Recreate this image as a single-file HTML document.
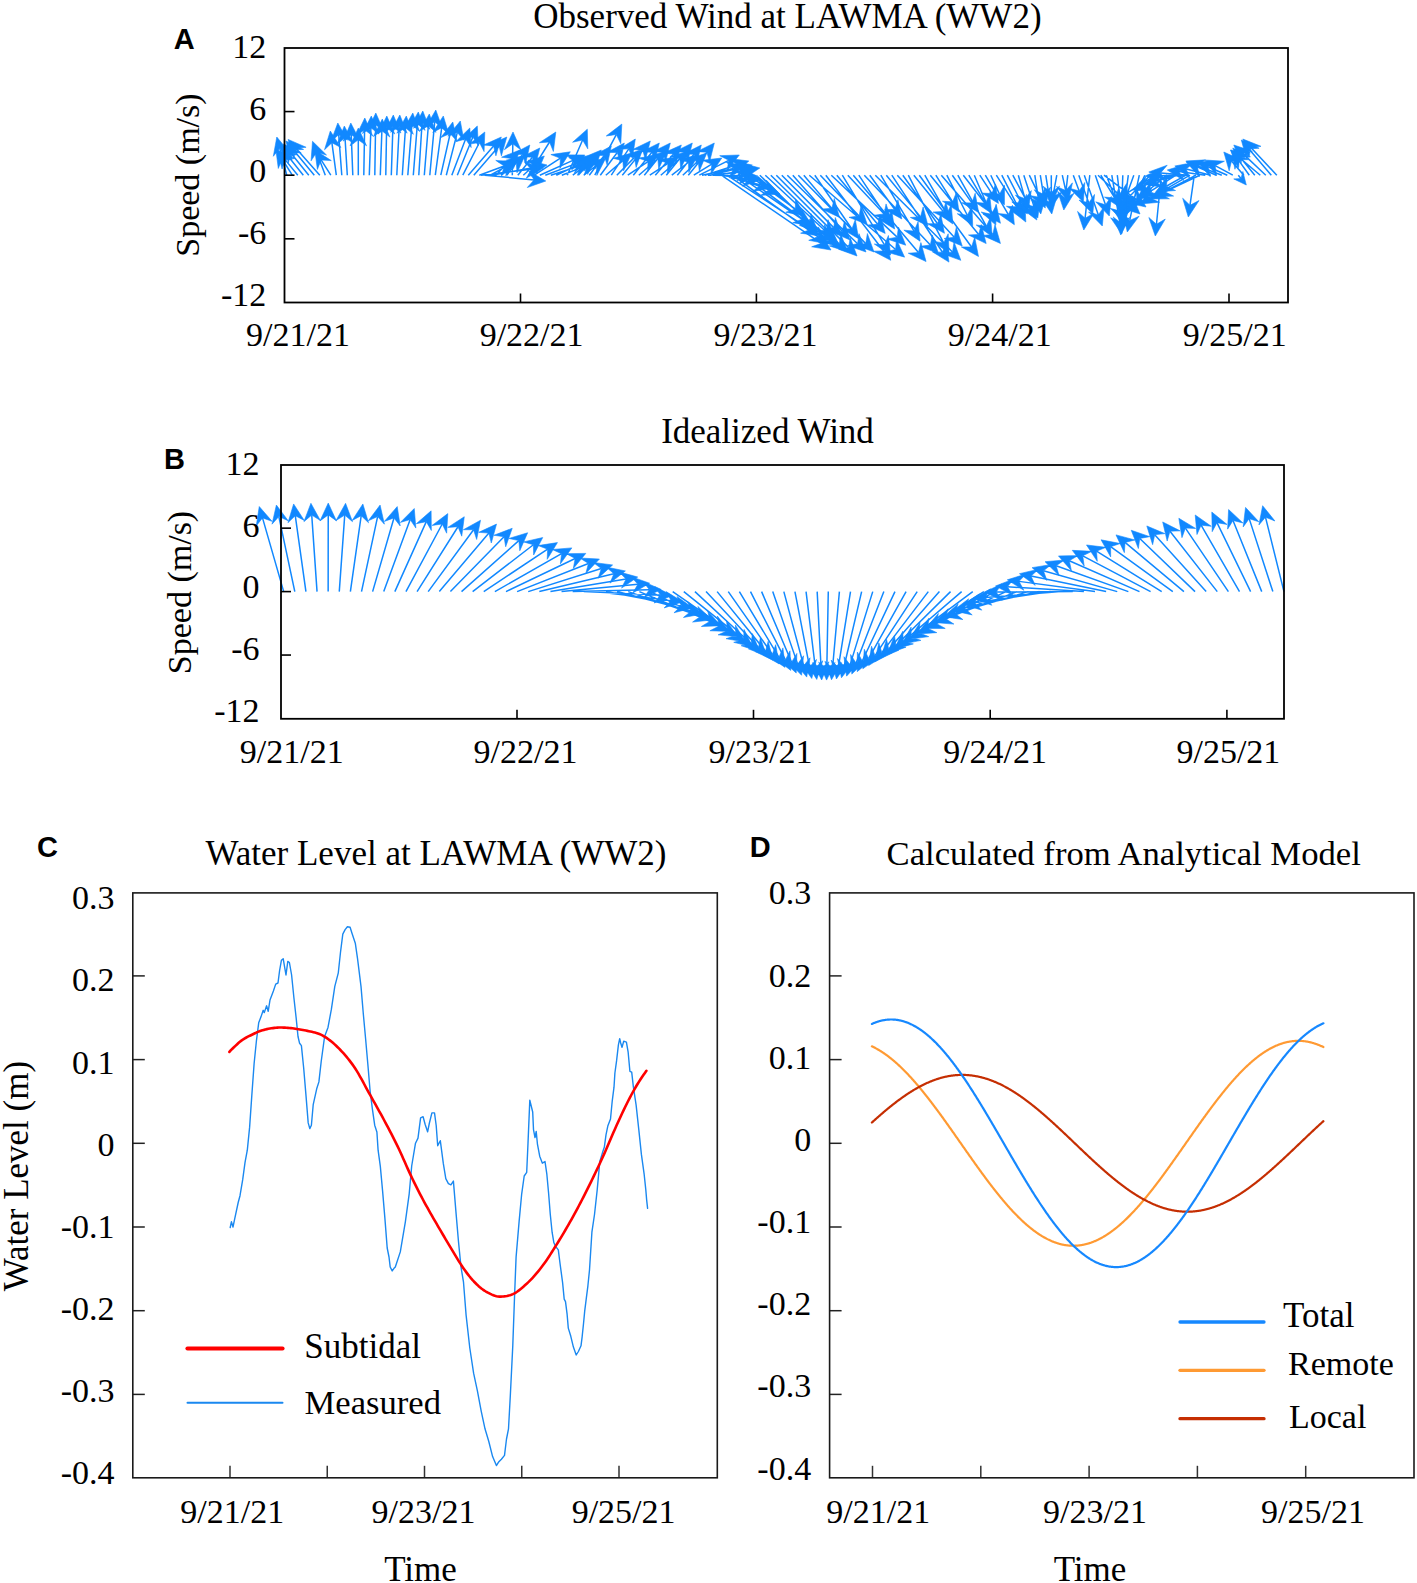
<!DOCTYPE html>
<html><head><meta charset="utf-8"><style>
html,body{margin:0;padding:0;background:#fff;overflow:hidden;width:1417px;height:1583px;}
svg{display:block;}
</style></head><body>
<svg width="1417" height="1583" viewBox="0 0 1417 1583">
<rect width="1417" height="1583" fill="#fff"/>
<path d="M286.80,175.20L279.79,148.42M292.30,175.20L282.09,158.98M297.80,175.20L284.67,159.14M303.30,175.20L287.36,155.22M308.80,175.20L291.01,153.18M314.30,175.20L293.44,150.08M319.80,175.20L295.92,148.23M325.30,175.20L316.67,152.34M330.80,175.20L321.12,159.96M336.30,175.20L331.89,142.69M341.80,175.20L338.70,134.77M347.30,175.20L345.02,137.78M352.80,175.20L351.25,134.79M358.30,175.20L358.30,139.80M363.80,175.20L364.59,129.80M369.30,175.20L370.90,127.79M374.80,175.20L375.61,124.80M380.30,175.20L381.88,130.79M385.80,175.20L386.60,127.80M391.30,175.20L392.91,126.79M396.80,175.20L399.21,126.79M402.30,175.20L405.50,127.77M407.80,175.20L411.85,124.76M413.30,175.20L417.37,123.76M418.80,175.20L422.07,122.78M424.30,175.20L428.34,125.76M429.80,175.20L434.72,121.75M435.30,175.20L441.72,127.69M440.80,175.20L450.20,133.51M446.30,175.20L457.35,132.43M451.80,175.20L465.60,139.03M457.30,175.20L472.86,136.93M462.80,175.20L479.45,142.52M468.30,175.20L493.59,145.93M473.80,175.20L499.09,145.93M479.30,175.20L504.22,166.06M484.80,175.20L534.05,179.88M490.30,175.20L507.02,165.79M495.80,175.20L511.66,158.54M501.30,175.20L516.27,162.60M506.80,175.20L522.65,154.39M512.30,175.20L512.81,143.80M517.80,175.20L532.38,157.17M523.30,175.20L535.59,163.96M528.80,175.20L549.55,142.01M534.30,175.20L560.41,158.23M539.80,175.20L574.03,159.83M545.30,175.20L577.26,163.16M550.80,175.20L580.57,165.62M556.30,175.20L585.66,161.11M561.80,175.20L586.82,165.33M567.30,175.20L582.60,140.02M572.80,175.20L587.40,164.13M578.30,175.20L593.35,158.72M583.80,175.20L596.50,165.27M589.30,175.20L604.20,155.42M594.80,175.20L616.29,134.53M600.30,175.20L617.25,152.46M605.80,175.20L622.83,160.66M611.30,175.20L628.78,148.83M616.80,175.20L634.49,157.38M622.30,175.20L642.82,150.13M627.80,175.20L648.01,161.59M633.30,175.20L651.89,152.18M638.80,175.20L657.87,158.72M644.30,175.20L662.89,152.18M649.80,175.20L667.91,163.43M655.30,175.20L673.60,153.94M660.80,175.20L679.87,158.72M666.30,175.20L684.89,152.18M671.80,175.20L688.48,162.24M677.30,175.20L693.96,154.24M682.80,175.20L698.14,161.01M688.30,175.20L706.89,152.18M693.80,175.20L711.75,164.18M699.30,175.20L728.77,160.32M704.80,175.20L737.57,164.62M710.30,175.20L740.83,167.78M715.80,175.20L748.15,169.91M721.30,175.20L821.25,243.35M726.80,175.20L810.12,229.55M732.30,175.20L818.42,237.11M737.80,175.20L802.26,219.33M743.30,175.20L824.50,235.00M748.80,175.20L795.45,209.07M754.30,175.20L830.95,239.42M759.80,175.20L809.56,223.76M765.30,175.20L839.35,243.97M770.80,175.20L826.56,229.75M776.30,175.20L848.66,247.65M781.80,175.20L833.70,227.61M787.30,175.20L857.55,243.76M792.80,175.20L842.19,231.15M798.30,175.20L865.72,243.60M803.80,175.20L831.87,208.37M809.30,175.20L895.63,249.45M814.80,175.20L851.90,229.02M820.30,175.20L859.13,215.95M825.80,175.20L883.57,250.95M831.30,175.20L897.14,237.13M836.80,175.20L877.65,224.35M842.30,175.20L884.47,244.89M847.80,175.20L884.14,213.94M853.30,175.20L918.46,252.50M858.80,175.20L888.08,219.16M864.30,175.20L930.37,244.99M869.80,175.20L894.83,209.44M875.30,175.20L952.47,252.03M880.80,175.20L914.06,231.10M886.30,175.20L920.56,216.86M891.80,175.20L942.49,252.26M897.30,175.20L954.26,237.34M902.80,175.20L937.56,223.71M908.30,175.20L943.64,242.89M913.80,175.20L943.22,211.53M919.30,175.20L971.54,246.94M924.80,175.20L947.00,213.80M930.30,175.20L978.69,234.43M935.80,175.20L952.62,201.87M941.30,175.20L992.71,234.56M946.80,175.20L967.34,215.25M952.30,175.20L971.87,202.92M957.80,175.20L986.36,226.21M963.30,175.20L993.24,213.94M968.80,175.20L985.59,203.28M974.30,175.20L991.14,214.28M979.80,175.20L991.92,193.55M985.30,175.20L1008.39,214.53M990.80,175.20L999.49,194.18M996.30,175.20L1016.63,206.87M1001.80,175.20L1020.42,211.50M1007.30,175.20L1021.89,203.51M1012.80,175.20L1031.23,209.60M1018.30,175.20L1025.04,198.66M1023.80,175.20L1034.13,206.78M1029.30,175.20L1040.13,197.39M1034.80,175.20L1039.00,202.34M1040.30,175.20L1043.41,194.35M1045.80,175.20L1050.00,202.34M1051.30,175.20L1051.30,192.20M1056.80,175.20L1052.92,196.39M1062.30,175.20L1065.72,190.49M1067.80,175.20L1065.15,198.28M1073.30,175.20L1079.17,190.94M1078.80,175.20L1088.80,202.90M1084.30,175.20L1098.36,214.88M1089.80,175.20L1085.08,218.27M1095.30,175.20L1105.47,204.84M1100.80,175.20L1114.66,197.93M1106.30,175.20L1120.06,210.99M1111.80,175.20L1119.82,222.37M1117.30,175.20L1121.92,214.28M1122.80,175.20L1121.19,223.21M1128.30,175.20L1123.80,210.30M1133.80,175.20L1123.80,202.90M1139.30,175.20L1129.74,220.45M1144.80,175.20L1131.77,203.30M1150.30,175.20L1128.53,197.55M1155.80,175.20L1125.83,193.78M1161.30,175.20L1156.46,224.26M1166.80,175.20L1145.89,192.48M1172.30,175.20L1143.37,185.91M1177.80,175.20L1155.22,181.04M1183.30,175.20L1157.10,175.75M1188.80,175.20L1160.56,172.94M1194.30,175.20L1189.98,205.32M1199.80,175.20L1160.45,193.93M1205.30,175.20L1178.99,171.60M1210.80,175.20L1186.23,168.92M1216.30,175.20L1197.10,166.75M1221.80,175.20L1196.78,165.33M1227.30,175.20L1208.10,166.75M1232.80,175.20L1215.17,165.63M1238.30,175.20L1241.00,178.50M1243.80,175.20L1231.50,160.94M1249.30,175.20L1238.16,159.60M1254.80,175.20L1240.22,157.17M1260.30,175.20L1239.34,157.59M1265.80,175.20L1242.38,153.10M1271.30,175.20L1248.95,148.98M1276.80,175.20L1250.88,147.60M702.00,175.20L733.46,168.47M708.00,175.20L742.25,172.07M713.00,175.20L745.20,175.79M719.00,175.20L749.28,178.66M724.00,175.20L760.60,184.96M730.00,175.20L768.95,189.85M481.00,175.20L531.28,169.36M492.00,175.20L535.40,167.15M1098.00,175.20L1131.33,205.99M1104.00,175.20L1136.59,199.88M1176.00,175.20L1149.97,191.69M1190.00,175.20L1150.23,198.11M1196.00,175.20L1164.47,191.56M1186.00,175.20L1166.30,186.23" stroke="#1188ff" stroke-width="1.5" fill="none"/>
<path d="M276.80,137.00L289.29,152.13L279.79,148.42L273.33,156.31ZM275.80,149.00L292.27,159.67L282.09,158.98L278.30,168.46ZM277.20,150.00L294.85,158.56L284.67,159.14L282.08,169.00ZM280.00,146.00L297.55,154.77L287.36,155.22L284.65,165.06ZM283.60,144.00L301.20,152.66L291.01,153.18L288.37,163.03ZM285.90,141.00L303.62,149.42L293.44,150.08L290.92,159.96ZM288.10,139.40L306.08,147.26L295.92,148.23L293.72,158.20ZM312.50,141.30L326.51,155.04L316.67,152.34L311.07,160.87ZM314.80,150.00L331.31,160.60L321.12,159.96L317.38,169.45ZM330.30,131.00L340.87,147.53L331.89,142.69L324.52,149.75ZM337.80,123.00L347.39,140.12L338.70,134.77L330.93,141.38ZM344.30,126.00L353.62,143.26L345.02,137.78L337.15,144.27ZM350.80,123.00L359.73,140.47L351.25,134.79L343.24,141.10ZM358.30,128.00L366.55,145.80L358.30,139.80L350.05,145.80ZM364.80,118.00L372.74,135.94L364.59,129.80L356.24,135.65ZM371.30,116.00L378.94,134.07L370.90,127.79L362.45,133.51ZM375.80,113.00L383.76,130.93L375.61,124.80L367.26,130.67ZM382.30,119.00L389.91,137.08L381.88,130.79L373.42,136.50ZM386.80,116.00L394.75,133.94L386.60,127.80L378.25,133.66ZM393.30,115.00L400.95,133.06L392.91,126.79L384.46,132.52ZM399.80,115.00L407.15,133.19L399.21,126.79L390.67,132.37ZM406.30,116.00L413.33,134.32L405.50,127.77L396.87,133.20ZM412.80,113.00L419.60,131.40L411.85,124.76L403.15,130.08ZM418.30,112.00L425.12,130.40L417.37,123.76L408.67,129.09ZM422.80,111.00L429.93,129.28L422.07,122.78L413.46,128.25ZM429.30,114.00L436.07,132.41L428.34,125.76L419.63,131.07ZM435.80,110.00L442.38,128.48L434.72,121.75L425.95,126.97ZM443.30,116.00L449.09,134.74L441.72,127.69L432.74,132.53ZM452.80,122.00L456.93,141.18L450.20,133.51L440.84,137.55ZM460.30,121.00L463.84,140.30L457.35,132.43L447.86,136.17ZM469.80,128.00L471.17,147.57L465.60,139.03L455.75,141.69ZM477.30,126.00L478.24,145.60L472.86,136.93L462.95,139.38ZM484.80,132.00L484.07,151.61L479.45,142.52L469.37,144.12ZM501.30,137.00L495.91,155.86L493.59,145.93L483.42,145.08ZM506.80,137.00L501.41,155.86L499.09,145.93L488.92,145.08ZM515.30,162.00L501.43,175.87L504.22,166.06L495.75,160.38ZM545.80,181.00L527.30,187.53L534.05,179.88L528.86,171.10ZM517.30,160.00L505.84,175.92L507.02,165.79L497.74,161.54ZM519.80,150.00L513.50,168.58L511.66,158.54L501.55,157.20ZM525.30,155.00L516.99,172.77L516.27,162.60L506.37,160.15ZM529.80,145.00L525.58,164.16L522.65,154.39L512.45,154.16ZM513.00,132.00L520.96,149.93L512.81,143.80L504.46,149.66ZM539.80,148.00L535.02,167.03L532.38,157.17L522.19,156.65ZM544.30,156.00L536.73,174.10L535.59,163.96L525.60,161.92ZM555.80,132.00L553.36,151.47L549.55,142.01L539.37,142.72ZM570.30,151.80L559.87,168.42L560.41,158.23L550.88,154.58ZM584.80,155.00L571.94,169.82L574.03,159.83L565.18,154.76ZM588.30,159.00L574.55,173.00L577.26,163.16L568.73,157.56ZM591.80,162.00L577.38,175.31L580.57,165.62L572.33,159.60ZM596.30,156.00L583.82,171.14L585.66,161.11L576.68,156.27ZM597.80,161.00L584.27,175.21L586.82,165.33L578.21,159.86ZM587.30,129.20L587.77,148.81L582.60,140.02L572.64,142.23ZM596.80,157.00L587.60,174.33L587.40,164.13L577.63,161.18ZM601.30,150.00L595.39,168.71L593.35,158.72L583.21,157.59ZM605.80,158.00L596.86,175.46L596.50,165.27L586.70,162.46ZM611.30,146.00L607.18,165.18L604.20,155.42L594.00,155.25ZM621.80,124.10L620.78,143.69L616.29,134.53L606.19,135.98ZM624.30,143.00L620.28,162.20L617.25,152.46L607.05,152.34ZM631.80,153.00L623.62,170.83L622.83,160.66L612.91,158.28ZM635.30,139.00L632.34,158.39L628.78,148.83L618.59,149.28ZM642.80,149.00L636.12,167.45L634.49,157.38L624.41,155.82ZM650.30,141.00L645.41,160.00L642.82,150.13L632.64,149.55ZM657.80,155.00L647.64,171.78L648.01,161.59L638.43,158.10ZM659.30,143.00L654.54,162.03L651.89,152.18L641.70,151.67ZM666.80,151.00L658.73,168.88L657.87,158.72L647.94,156.40ZM670.30,143.00L665.54,162.03L662.89,152.18L652.70,151.67ZM677.80,157.00L667.37,173.62L667.91,163.43L658.38,159.78ZM681.30,145.00L675.94,163.87L673.60,153.94L663.43,153.11ZM688.80,151.00L680.73,168.88L679.87,158.72L669.94,156.40ZM692.30,143.00L687.54,162.03L684.89,152.18L674.70,151.67ZM697.80,155.00L688.81,172.44L688.48,162.24L678.68,159.41ZM701.30,145.00L696.68,164.07L693.96,154.24L683.77,153.80ZM706.80,153.00L699.34,171.14L698.14,161.01L688.13,159.03ZM714.30,143.00L709.54,162.03L706.89,152.18L696.70,151.67ZM721.80,158.00L710.95,174.35L711.75,164.18L702.31,160.29ZM739.30,155.00L727.13,170.39L728.77,160.32L719.69,155.66ZM748.80,161.00L734.39,174.32L737.57,164.62L729.33,158.62ZM752.30,165.00L736.95,177.22L740.83,167.78L733.06,161.18ZM759.80,168.00L743.57,179.02L748.15,169.91L740.90,162.73ZM831.00,250.00L811.65,246.79L821.25,243.35L820.94,233.16ZM820.00,236.00L800.58,233.18L810.12,229.55L809.60,219.36ZM828.00,244.00L808.73,240.31L818.42,237.11L818.36,226.91ZM812.00,226.00L792.65,222.75L802.26,219.33L801.97,209.14ZM834.00,242.00L814.78,238.09L824.50,235.00L824.56,224.80ZM805.00,216.00L785.75,212.22L795.45,209.07L795.44,198.87ZM840.00,247.00L821.06,241.89L830.95,239.42L831.65,229.24ZM818.00,232.00L799.50,225.47L809.56,223.76L811.02,213.66ZM848.00,252.00L829.34,245.93L839.35,243.97L840.57,233.84ZM835.00,238.00L816.51,231.45L826.56,229.75L828.04,219.66ZM857.00,256.00L838.58,249.24L848.66,247.65L850.26,237.58ZM842.00,236.00L823.61,229.16L833.70,227.61L835.34,217.55ZM866.00,252.00L847.50,245.47L857.55,243.76L859.02,233.66ZM850.00,240.00L832.04,232.11L842.19,231.15L844.41,221.20ZM874.00,252.00L855.63,245.11L865.72,243.60L867.38,233.53ZM839.49,217.38L821.69,209.12L831.87,208.37L834.29,198.46ZM904.58,257.14L885.70,251.79L895.63,249.45L896.46,239.28ZM858.60,238.74L841.71,228.77L851.90,229.02L855.29,219.40ZM867.27,224.49L849.02,217.30L859.13,215.95L860.96,205.91ZM890.73,260.33L873.38,251.18L883.57,250.95L886.49,241.17ZM905.74,245.21L887.12,239.02L897.14,237.13L898.43,227.01ZM885.19,233.42L867.47,225.00L877.65,224.35L880.16,214.46ZM890.58,254.99L874.31,244.03L884.47,244.89L888.42,235.49ZM892.21,222.55L874.02,215.21L884.14,213.94L886.05,203.92ZM926.07,261.52L908.29,253.23L918.46,252.50L920.90,242.59ZM894.62,228.98L877.89,218.74L888.08,219.16L891.62,209.59ZM938.48,253.56L920.25,246.31L930.37,244.99L932.23,234.96ZM901.80,218.96L884.63,209.46L894.83,209.44L897.95,199.72ZM960.83,260.36L942.40,253.65L952.47,252.03L954.04,241.95ZM920.09,241.24L903.90,230.16L914.06,231.10L918.08,221.72ZM928.05,225.97L910.37,217.46L920.56,216.86L923.12,206.98ZM948.97,262.12L932.30,251.78L942.49,252.26L946.08,242.71ZM962.23,246.04L944.12,238.49L954.26,237.34L956.28,227.34ZM944.43,233.30L927.36,223.64L937.56,223.71L940.77,214.03ZM949.10,253.35L933.55,241.39L943.64,242.89L948.18,233.75ZM950.65,220.70L933.04,212.06L943.22,211.53L945.86,201.68ZM978.49,256.48L961.34,246.95L971.54,246.94L974.68,237.23ZM952.88,224.03L936.85,212.71L947.00,213.80L951.16,204.49ZM986.16,243.57L968.51,235.01L978.69,234.43L981.29,224.57ZM958.92,211.85L942.45,201.20L952.62,201.87L956.40,192.39ZM1000.44,243.48L982.55,235.43L992.71,234.56L995.02,224.62ZM972.72,225.75L957.26,213.68L967.34,215.25L971.94,206.15ZM978.67,212.56L961.67,202.78L971.87,202.92L975.15,193.26ZM992.12,236.51L976.23,225.01L986.36,226.21L990.62,216.95ZM1000.46,223.28L983.05,214.24L993.24,213.94L996.10,204.15ZM991.65,213.41L975.43,202.37L985.59,203.28L989.59,193.90ZM995.81,225.12L981.19,212.04L991.14,214.28L996.34,205.51ZM998.42,203.40L981.73,193.09L991.92,193.55L995.50,184.00ZM1014.36,224.71L998.23,213.54L1008.39,214.53L1012.46,205.18ZM1004.40,204.91L989.49,192.16L999.49,194.18L1004.49,185.29ZM1023.01,216.80L1006.45,206.28L1016.63,206.87L1020.34,197.36ZM1025.80,222.00L1010.34,209.93L1020.42,211.50L1025.02,202.40ZM1027.30,214.00L1011.81,201.96L1021.89,203.51L1026.48,194.40ZM1036.80,220.00L1021.12,208.21L1031.23,209.60L1035.67,200.41ZM1028.30,210.00L1015.45,195.17L1025.04,198.66L1031.31,190.61ZM1037.80,218.00L1024.42,203.65L1034.13,206.78L1040.11,198.52ZM1045.30,208.00L1030.08,195.62L1040.13,197.39L1044.91,188.38ZM1040.80,214.00L1029.93,197.67L1039.00,202.34L1046.23,195.15ZM1045.30,206.00L1034.30,189.75L1043.41,194.35L1050.59,187.11ZM1051.80,214.00L1040.93,197.67L1050.00,202.34L1057.23,195.15ZM1051.30,204.00L1043.05,186.20L1051.30,192.20L1059.55,186.20ZM1050.80,208.00L1045.89,189.01L1052.92,196.39L1062.12,191.98ZM1068.30,202.00L1056.36,186.43L1065.72,190.49L1072.46,182.83ZM1063.80,210.00L1057.64,191.37L1065.15,198.28L1074.03,193.26ZM1083.30,202.00L1069.35,188.21L1079.17,190.94L1084.81,182.44ZM1092.80,214.00L1079.00,200.06L1088.80,202.90L1094.52,194.46ZM1102.30,226.00L1088.58,211.98L1098.36,214.88L1104.13,206.47ZM1083.80,230.00L1077.54,211.41L1085.08,218.27L1093.94,213.20ZM1109.30,216.00L1095.72,201.84L1105.47,204.84L1111.33,196.49ZM1120.80,208.00L1104.49,197.10L1114.66,197.93L1118.58,188.51ZM1124.30,222.00L1110.21,208.35L1120.06,210.99L1125.61,202.42ZM1121.80,234.00L1110.68,217.84L1119.82,222.37L1126.95,215.07ZM1123.30,226.00L1113.02,209.29L1121.92,214.28L1129.41,207.36ZM1120.80,235.00L1113.15,216.93L1121.19,223.21L1129.64,217.49ZM1122.30,222.00L1116.38,203.30L1123.80,210.30L1132.75,205.39ZM1119.80,214.00L1118.08,194.46L1123.80,202.90L1133.60,200.06ZM1127.30,232.00L1122.91,212.88L1129.74,220.45L1139.05,216.29ZM1126.80,214.00L1126.81,194.38L1131.77,203.30L1141.77,201.32ZM1120.30,206.00L1126.81,187.49L1128.53,197.55L1138.63,199.01ZM1115.80,200.00L1126.58,183.61L1125.83,193.78L1135.28,197.63ZM1155.30,236.00L1148.84,217.48L1156.46,224.26L1165.26,219.10ZM1136.80,200.00L1145.26,182.30L1145.89,192.48L1155.78,195.02ZM1132.30,190.00L1146.13,176.09L1143.37,185.91L1151.86,191.56ZM1143.80,184.00L1158.96,171.55L1155.22,181.04L1163.10,187.53ZM1145.30,176.00L1162.92,167.38L1157.10,175.75L1163.27,183.87ZM1148.80,172.00L1167.20,165.20L1160.56,172.94L1165.89,181.64ZM1188.30,217.00L1182.66,198.21L1189.98,205.32L1199.00,200.55ZM1149.80,199.00L1162.33,183.90L1160.45,193.93L1169.42,198.80ZM1167.30,170.00L1186.05,164.24L1178.99,171.60L1183.82,180.59ZM1174.80,166.00L1194.09,162.41L1186.23,168.92L1190.00,178.40ZM1186.30,162.00L1205.92,161.62L1197.10,166.75L1199.27,176.72ZM1185.80,161.00L1205.39,159.86L1196.78,165.33L1199.33,175.21ZM1197.30,162.00L1216.92,161.62L1208.10,166.75L1210.27,176.72ZM1204.80,160.00L1224.38,161.24L1215.17,165.63L1216.51,175.74ZM1246.30,185.00L1233.76,178.91L1241.00,178.50L1242.84,171.49ZM1223.80,152.00L1241.67,160.10L1231.50,160.94L1229.17,170.87ZM1231.30,150.00L1248.36,159.69L1238.16,159.60L1234.93,169.28ZM1232.80,148.00L1250.41,156.65L1240.22,157.17L1237.58,167.03ZM1230.30,150.00L1249.24,155.13L1239.34,157.59L1238.62,167.77ZM1233.80,145.00L1252.41,151.22L1242.38,153.10L1241.08,163.22ZM1241.30,140.00L1259.12,148.20L1248.95,148.98L1246.57,158.90ZM1242.80,139.00L1261.00,146.33L1250.88,147.60L1248.97,157.62ZM745.00,166.00L729.32,177.79L733.46,168.47L725.87,161.66ZM754.00,171.00L737.02,180.83L742.25,172.07L735.52,164.40ZM757.00,176.00L739.05,183.93L745.20,175.79L739.35,167.43ZM761.00,180.00L742.38,186.18L749.28,178.66L744.25,169.78ZM772.00,188.00L752.68,191.39L760.60,184.96L756.93,175.44ZM780.00,194.00L760.44,195.46L768.95,189.85L766.24,180.01ZM543.00,168.00L526.27,178.25L531.28,169.36L524.37,161.86ZM547.00,165.00L531.00,176.36L535.40,167.15L527.99,160.13ZM1140.00,214.00L1121.33,207.98L1131.33,205.99L1132.52,195.86ZM1146.00,207.00L1126.83,202.83L1136.59,199.88L1136.79,189.68ZM1140.00,198.00L1150.62,181.51L1149.97,191.69L1159.45,195.45ZM1140.00,204.00L1151.31,187.97L1150.23,198.11L1159.54,202.26ZM1154.00,197.00L1166.00,181.48L1164.47,191.56L1173.60,196.12ZM1156.00,192.00L1167.50,176.10L1166.30,186.23L1175.56,190.50Z" fill="#1188ff" stroke="#1188ff" stroke-width="0.6" stroke-linejoin="round"/>
<text x="266.3" y="57.7" font-family='"Liberation Serif", serif' font-size="34" font-weight="normal" text-anchor="end" fill="#000">12</text>
<line x1="284.50" y1="111.57" x2="294.50" y2="111.57" stroke="#000" stroke-width="1.6" stroke-linecap="butt"/>
<text x="266.3" y="119.7" font-family='"Liberation Serif", serif' font-size="34" font-weight="normal" text-anchor="end" fill="#000">6</text>
<line x1="284.50" y1="175.20" x2="294.50" y2="175.20" stroke="#000" stroke-width="1.6" stroke-linecap="butt"/>
<text x="266.3" y="181.6" font-family='"Liberation Serif", serif' font-size="34" font-weight="normal" text-anchor="end" fill="#000">0</text>
<line x1="284.50" y1="238.82" x2="294.50" y2="238.82" stroke="#000" stroke-width="1.6" stroke-linecap="butt"/>
<text x="266.3" y="243.6" font-family='"Liberation Serif", serif' font-size="34" font-weight="normal" text-anchor="end" fill="#000">-6</text>
<text x="266.3" y="305.5" font-family='"Liberation Serif", serif' font-size="34" font-weight="normal" text-anchor="end" fill="#000">-12</text>
<line x1="520.50" y1="302.50" x2="520.50" y2="293.50" stroke="#000" stroke-width="1.6" stroke-linecap="butt"/>
<line x1="756.40" y1="302.50" x2="756.40" y2="293.50" stroke="#000" stroke-width="1.6" stroke-linecap="butt"/>
<line x1="992.60" y1="302.50" x2="992.60" y2="293.50" stroke="#000" stroke-width="1.6" stroke-linecap="butt"/>
<line x1="1229.00" y1="302.50" x2="1229.00" y2="293.50" stroke="#000" stroke-width="1.6" stroke-linecap="butt"/>
<text x="298.0" y="345.6" font-family='"Liberation Serif", serif' font-size="34" font-weight="normal" text-anchor="middle" fill="#000">9/21/21</text>
<text x="531.6" y="345.6" font-family='"Liberation Serif", serif' font-size="34" font-weight="normal" text-anchor="middle" fill="#000">9/22/21</text>
<text x="765.5" y="345.6" font-family='"Liberation Serif", serif' font-size="34" font-weight="normal" text-anchor="middle" fill="#000">9/23/21</text>
<text x="999.7" y="345.6" font-family='"Liberation Serif", serif' font-size="34" font-weight="normal" text-anchor="middle" fill="#000">9/24/21</text>
<text x="1234.7" y="345.6" font-family='"Liberation Serif", serif' font-size="34" font-weight="normal" text-anchor="middle" fill="#000">9/25/21</text>
<rect x="284.5" y="48" width="1003.5" height="254.5" fill="none" stroke="#000" stroke-width="1.8"/>
<text x="787.4" y="27.5" font-family='"Liberation Serif", serif' font-size="35" font-weight="normal" text-anchor="middle" fill="#000">Observed Wind at LAWMA (WW2)</text>
<text x="173.7" y="49.1" font-family='"Liberation Sans", sans-serif' font-size="29" font-weight="bold" text-anchor="start" fill="#000">A</text>
<text transform="translate(198.5,175.1) rotate(-90)" font-family='"Liberation Serif", serif' font-size="34" text-anchor="middle" fill="#000">Speed (m/s)</text>
<path d="M283.70,591.60L262.51,517.88M294.81,591.60L278.85,516.58M305.93,591.60L295.27,515.64M317.04,591.60L311.74,515.08M328.16,591.60L328.23,514.90M339.27,591.60L344.73,515.09M350.38,591.60L361.20,515.67M361.50,591.60L377.61,516.61M372.61,591.60L393.95,517.93M383.73,591.60L410.18,519.61M394.84,591.60L426.28,521.64M405.95,591.60L442.22,524.02M417.07,591.60L457.99,526.73M428.18,591.60L473.55,529.76M439.30,591.60L488.89,533.09M450.41,591.60L503.99,536.72M461.52,591.60L518.82,540.61M472.64,591.60L533.37,544.76M483.75,591.60L547.62,549.14M494.87,591.60L561.56,553.72M505.98,591.60L575.17,558.49M517.09,591.60L588.43,563.43M528.21,591.60L601.35,568.50M539.32,591.60L613.90,573.69M550.44,591.60L626.09,578.97M561.55,591.60L637.90,584.31M572.66,591.60L649.34,589.68M583.78,591.60L660.40,595.07M594.89,591.60L671.08,600.44M606.01,591.60L681.39,605.76M617.12,591.60L691.32,611.01M628.23,591.60L700.89,616.17M639.35,591.60L710.10,621.21M650.46,591.60L718.96,626.10M661.58,591.60L727.49,630.82M672.69,591.60L735.69,635.35M683.80,591.60L743.58,639.66M694.92,591.60L751.17,643.74M706.03,591.60L758.49,647.56M717.15,591.60L765.55,651.10M728.26,591.60L772.37,654.35M739.37,591.60L778.97,657.29M750.49,591.60L785.38,659.90M761.60,591.60L791.62,662.18M772.72,591.60L797.70,664.12M783.83,591.60L803.67,665.69M794.94,591.60L809.53,666.90M806.06,591.60L815.33,667.74M817.17,591.60L821.08,668.20M828.29,591.60L826.81,668.29M839.40,591.60L832.55,667.99M850.51,591.60L838.32,667.32M861.63,591.60L844.15,666.28M872.74,591.60L850.07,664.87M883.86,591.60L856.09,663.10M894.97,591.60L862.26,660.98M906.08,591.60L868.59,658.51M917.20,591.60L875.10,655.71M928.31,591.60L881.82,652.60M939.43,591.60L888.77,649.19M950.54,591.60L895.97,645.49M961.65,591.60L903.43,641.53M972.77,591.60L911.19,637.32M983.88,591.60L919.24,632.89M995.00,591.60L927.62,628.25M1006.11,591.60L936.33,623.44M1017.22,591.60L945.38,618.46M1028.34,591.60L954.79,613.36M1039.45,591.60L964.56,608.14M1050.57,591.60L974.69,602.85M1061.68,591.60L985.21,597.49M1072.79,591.60L996.10,592.11M1083.91,591.60L1007.36,586.73M1095.02,591.60L1019.01,581.37M1106.14,591.60L1031.03,576.07M1117.25,591.60L1043.41,570.83M1128.36,591.60L1056.17,565.70M1139.48,591.60L1069.28,560.70M1150.59,591.60L1082.73,555.85M1161.71,591.60L1096.52,551.18M1172.82,591.60L1110.63,546.71M1183.93,591.60L1125.05,542.45M1195.05,591.60L1139.76,538.44M1206.16,591.60L1154.73,534.70M1217.28,591.60L1169.97,531.23M1228.39,591.60L1185.43,528.06M1239.50,591.60L1201.11,525.20M1250.62,591.60L1216.98,522.67M1261.73,591.60L1233.01,520.48M1272.85,591.60L1249.19,518.64M1283.96,591.60L1265.48,517.16" stroke="#1188ff" stroke-width="1.5" fill="none"/>
<path d="M259.25,506.54L272.10,521.37L262.51,517.88L256.24,525.93ZM276.39,505.04L288.17,520.73L278.85,516.58L272.03,524.17ZM293.63,503.96L304.27,520.44L295.27,515.64L287.93,522.73ZM310.92,503.31L320.38,520.50L311.74,515.08L303.92,521.64ZM328.24,503.10L336.48,520.91L328.23,514.90L319.98,520.89ZM345.57,503.32L352.53,521.67L344.73,515.09L336.07,520.49ZM362.86,503.98L368.52,522.77L361.20,515.67L352.18,520.44ZM380.09,505.07L384.42,524.21L377.61,516.61L368.28,520.74ZM397.23,506.59L400.20,525.98L393.95,517.93L384.35,521.40ZM414.25,508.53L415.85,528.08L410.18,519.61L400.36,522.39ZM431.11,510.87L431.34,530.49L426.28,521.64L416.29,523.73ZM447.80,513.62L446.65,533.20L442.22,524.02L432.11,525.40ZM464.28,516.75L461.76,536.20L457.99,526.73L447.81,527.40ZM480.53,520.24L476.66,539.48L473.55,529.76L463.35,529.72ZM496.52,524.09L491.31,543.01L488.89,533.09L478.72,532.34ZM512.23,528.27L505.70,546.77L503.99,536.72L493.90,535.25ZM527.64,532.77L519.82,550.76L518.82,540.61L508.86,538.44ZM542.72,537.55L533.66,554.96L533.37,544.76L523.58,541.89ZM557.45,542.60L547.20,559.33L547.62,549.14L538.06,545.59ZM571.82,547.89L560.42,563.86L561.56,553.72L552.27,549.51ZM585.81,553.40L573.32,568.53L575.17,558.49L566.19,553.64ZM599.41,559.10L585.88,573.31L588.43,563.43L579.82,557.96ZM612.60,564.95L598.11,578.18L601.35,568.50L593.14,562.44ZM625.38,570.94L609.99,583.12L613.90,573.69L606.14,567.07ZM637.73,577.03L621.53,588.10L626.09,578.97L618.81,571.82ZM649.65,583.19L632.71,593.09L637.90,584.31L631.15,576.67ZM661.14,589.39L643.55,598.08L649.34,589.68L643.14,581.59ZM672.19,595.60L654.03,603.04L660.40,595.07L654.78,586.56ZM682.80,601.79L664.17,607.94L671.08,600.44L666.07,591.55ZM692.98,607.94L673.97,612.76L681.39,605.76L677.01,596.54ZM702.74,614.00L683.43,617.48L691.32,611.01L687.61,601.51ZM712.07,619.95L692.56,622.06L700.89,616.17L697.85,606.43ZM720.99,625.76L701.38,626.50L710.10,621.21L707.75,611.28ZM729.50,631.41L709.90,630.77L718.96,626.10L717.32,616.03ZM737.63,636.86L718.11,634.84L727.49,630.82L726.55,620.66ZM745.38,642.08L726.06,638.70L735.69,635.35L735.47,625.15ZM752.77,647.06L733.73,642.33L743.58,639.66L744.07,629.47ZM759.83,651.76L741.16,645.71L751.17,643.74L752.38,633.61ZM766.56,656.16L748.37,648.82L758.49,647.56L760.41,637.54ZM773.00,660.25L755.36,651.65L765.55,651.10L768.16,641.24ZM779.16,664.00L762.17,654.18L772.37,654.35L775.67,644.69ZM785.06,667.39L768.81,656.41L778.97,657.29L782.94,647.89ZM790.75,670.41L775.30,658.31L785.38,659.90L790.00,650.81ZM796.23,673.04L781.68,659.89L791.62,662.18L796.86,653.43ZM801.55,675.27L787.95,661.13L797.70,664.12L803.55,655.76ZM806.72,677.09L794.15,662.03L803.67,665.69L810.09,657.76ZM811.78,678.48L800.29,662.58L809.53,666.90L816.49,659.44ZM816.76,679.45L806.41,662.78L815.33,667.74L822.79,660.78ZM821.68,679.99L812.53,662.63L821.08,668.20L829.01,661.79ZM826.58,680.08L818.68,662.13L826.81,668.29L835.17,662.45ZM831.49,679.75L824.87,661.28L832.55,667.99L841.30,662.75ZM836.44,678.97L831.13,660.09L838.32,667.32L847.42,662.71ZM841.46,677.77L837.48,658.56L844.15,666.28L853.55,662.32ZM846.58,676.14L843.96,656.70L850.07,664.87L859.72,661.58ZM851.82,674.10L850.58,654.52L856.09,663.10L865.96,660.49ZM857.23,671.65L857.36,652.03L862.26,660.98L872.28,659.07ZM862.82,668.80L864.32,649.24L868.59,658.51L878.72,657.31ZM868.62,665.58L871.50,646.17L875.10,655.71L885.29,655.23ZM874.67,661.99L878.89,642.83L881.82,652.60L892.02,652.83ZM880.97,658.05L886.54,639.24L888.77,649.19L898.92,650.13ZM887.57,653.79L894.44,635.41L895.97,645.49L906.03,647.15ZM894.48,649.21L902.62,631.36L903.43,641.53L913.36,643.89ZM901.71,644.36L911.09,627.12L911.19,637.32L920.92,640.37ZM909.30,639.24L919.86,622.71L919.24,632.89L928.74,636.61ZM917.26,633.89L928.95,618.14L927.62,628.25L936.83,632.63ZM925.59,628.33L938.36,613.44L936.33,623.44L945.21,628.45ZM934.33,622.59L948.11,608.63L945.38,618.46L953.89,624.09ZM943.47,616.70L958.20,603.74L954.79,613.36L962.88,619.56ZM953.03,610.69L968.64,598.79L964.56,608.14L972.19,614.90ZM963.02,604.58L979.42,593.81L974.69,602.85L981.84,610.13ZM973.44,598.40L990.56,588.81L985.21,597.49L991.82,605.26ZM984.30,592.19L1002.04,583.82L996.10,592.11L1002.15,600.32ZM995.59,585.98L1013.87,578.88L1007.36,586.73L1012.83,595.35ZM1007.31,579.80L1026.05,574.00L1019.01,581.37L1023.85,590.35ZM1019.47,573.68L1038.57,569.20L1031.03,576.07L1035.23,585.36ZM1032.06,567.64L1051.42,564.52L1043.41,570.83L1046.96,580.40ZM1045.06,561.72L1064.60,559.96L1056.17,565.70L1059.03,575.50ZM1058.48,555.95L1078.09,555.57L1069.28,560.70L1071.44,570.67ZM1072.29,550.35L1091.88,551.35L1082.73,555.85L1084.19,565.95ZM1086.49,544.96L1105.97,547.33L1096.52,551.18L1097.27,561.35ZM1101.06,539.80L1120.32,543.53L1110.63,546.71L1110.67,556.91ZM1115.99,534.89L1134.94,539.96L1125.05,542.45L1124.37,552.63ZM1131.25,530.27L1149.80,536.65L1139.76,538.44L1138.36,548.55ZM1146.82,525.94L1164.88,533.62L1154.73,534.70L1152.64,544.68ZM1162.69,521.94L1180.16,530.86L1169.97,531.23L1167.18,541.04ZM1178.83,518.28L1195.63,528.41L1185.43,528.06L1181.96,537.65ZM1195.21,514.98L1211.26,526.26L1201.11,525.20L1196.97,534.52ZM1211.81,512.07L1227.03,524.44L1216.98,522.67L1212.20,531.68ZM1228.60,509.54L1242.91,522.95L1233.01,520.48L1227.61,529.13ZM1245.55,507.42L1258.89,521.80L1249.19,518.64L1243.19,526.89ZM1262.64,505.71L1274.93,521.00L1265.48,517.16L1258.92,524.97Z" fill="#1188ff" stroke="#1188ff" stroke-width="0.6" stroke-linejoin="round"/>
<text x="259.5" y="474.5" font-family='"Liberation Serif", serif' font-size="34" font-weight="normal" text-anchor="end" fill="#000">12</text>
<line x1="281.00" y1="528.15" x2="291.00" y2="528.15" stroke="#000" stroke-width="1.6" stroke-linecap="butt"/>
<text x="259.5" y="536.5" font-family='"Liberation Serif", serif' font-size="34" font-weight="normal" text-anchor="end" fill="#000">6</text>
<line x1="281.00" y1="591.60" x2="291.00" y2="591.60" stroke="#000" stroke-width="1.6" stroke-linecap="butt"/>
<text x="259.5" y="598.4" font-family='"Liberation Serif", serif' font-size="34" font-weight="normal" text-anchor="end" fill="#000">0</text>
<line x1="281.00" y1="655.05" x2="291.00" y2="655.05" stroke="#000" stroke-width="1.6" stroke-linecap="butt"/>
<text x="259.5" y="660.4" font-family='"Liberation Serif", serif' font-size="34" font-weight="normal" text-anchor="end" fill="#000">-6</text>
<text x="259.5" y="722.3" font-family='"Liberation Serif", serif' font-size="34" font-weight="normal" text-anchor="end" fill="#000">-12</text>
<line x1="517.00" y1="718.80" x2="517.00" y2="709.80" stroke="#000" stroke-width="1.6" stroke-linecap="butt"/>
<line x1="753.50" y1="718.80" x2="753.50" y2="709.80" stroke="#000" stroke-width="1.6" stroke-linecap="butt"/>
<line x1="990.20" y1="718.80" x2="990.20" y2="709.80" stroke="#000" stroke-width="1.6" stroke-linecap="butt"/>
<line x1="1226.90" y1="718.80" x2="1226.90" y2="709.80" stroke="#000" stroke-width="1.6" stroke-linecap="butt"/>
<text x="291.8" y="762.9" font-family='"Liberation Serif", serif' font-size="34" font-weight="normal" text-anchor="middle" fill="#000">9/21/21</text>
<text x="525.5" y="762.9" font-family='"Liberation Serif", serif' font-size="34" font-weight="normal" text-anchor="middle" fill="#000">9/22/21</text>
<text x="760.5" y="762.9" font-family='"Liberation Serif", serif' font-size="34" font-weight="normal" text-anchor="middle" fill="#000">9/23/21</text>
<text x="995.1" y="762.9" font-family='"Liberation Serif", serif' font-size="34" font-weight="normal" text-anchor="middle" fill="#000">9/24/21</text>
<text x="1228.4" y="762.9" font-family='"Liberation Serif", serif' font-size="34" font-weight="normal" text-anchor="middle" fill="#000">9/25/21</text>
<rect x="281" y="465" width="1003" height="253.79999999999995" fill="none" stroke="#000" stroke-width="1.8"/>
<text x="767.5" y="443.0" font-family='"Liberation Serif", serif' font-size="35" font-weight="normal" text-anchor="middle" fill="#000">Idealized Wind</text>
<text x="164.0" y="468.8" font-family='"Liberation Sans", sans-serif' font-size="29" font-weight="bold" text-anchor="start" fill="#000">B</text>
<text transform="translate(191.1,592.5) rotate(-90)" font-family='"Liberation Serif", serif' font-size="34" text-anchor="middle" fill="#000">Speed (m/s)</text>
<path d="M230.20,1227.50 L231.40,1221.80 L233.00,1227.00 L234.80,1218.40 L238.20,1202.50 L240.00,1195.70 L242.70,1179.70 L245.00,1162.70 L247.30,1150.20 L249.60,1127.40 L251.80,1095.60 L254.10,1063.70 L256.40,1041.00 L258.70,1022.80 L260.90,1017.10 L263.20,1010.30 L264.30,1012.60 L266.60,1005.80 L268.20,1011.40 L270.00,1000.00 L273.40,991.00 L275.70,984.10 L278.00,983.00 L279.60,970.50 L281.40,960.30 L283.20,958.70 L284.80,968.20 L286.00,975.00 L287.80,961.40 L289.40,962.50 L291.60,975.00 L293.90,997.80 L296.20,1018.30 L298.00,1036.50 L299.60,1043.30 L301.40,1045.60 L303.70,1068.30 L306.00,1095.60 L308.20,1122.90 L309.80,1128.60 L311.40,1125.20 L313.20,1104.70 L316.70,1088.80 L318.90,1081.90 L321.20,1061.50 L324.60,1036.50 L328.00,1027.40 L331.40,1009.20 L334.80,986.40 L338.30,972.80 L340.50,952.30 L342.80,934.10 L345.10,929.60 L347.40,926.80 L350.10,927.30 L351.90,933.00 L355.30,943.20 L357.60,959.10 L361.00,986.40 L363.30,1013.70 L365.60,1038.70 L367.80,1063.70 L370.10,1091.00 L372.40,1109.20 L374.70,1125.20 L376.90,1132.00 L378.10,1150.20 L380.30,1166.10 L382.60,1191.10 L384.90,1218.40 L387.20,1248.00 L389.00,1257.00 L390.20,1267.00 L392.20,1270.90 L394.00,1268.30 L395.30,1267.00 L400.30,1251.90 L405.40,1221.60 L409.20,1193.80 L411.70,1166.00 L415.50,1143.20 L418.00,1138.10 L420.60,1117.90 L423.10,1116.70 L425.10,1124.20 L427.60,1131.80 L429.40,1123.00 L431.90,1112.90 L434.50,1112.90 L436.20,1125.50 L437.70,1145.70 L440.30,1140.70 L443.30,1163.40 L445.80,1178.60 L448.40,1183.60 L450.90,1184.90 L453.40,1181.10 L455.90,1211.40 L458.50,1241.80 L461.00,1267.10 L463.50,1282.20 L466.10,1315.10 L469.80,1348.00 L473.60,1373.20 L477.40,1390.90 L481.20,1411.10 L485.00,1428.80 L488.80,1441.50 L492.60,1456.60 L496.40,1465.50 L498.90,1461.70 L501.40,1459.20 L504.50,1455.40 L506.50,1439.00 L508.50,1428.80 L510.30,1396.00 L512.80,1345.40 L514.60,1294.90 L516.10,1256.90 L519.10,1221.60 L521.70,1193.80 L524.20,1176.00 L526.70,1172.30 L528.00,1143.20 L529.80,1100.20 L532.70,1112.00 L533.50,1129.60 L535.00,1137.60 L536.20,1131.40 L537.40,1143.80 L539.70,1156.20 L542.40,1163.20 L545.00,1161.50 L546.80,1173.80 L548.60,1193.30 L550.30,1214.50 L552.10,1232.20 L553.90,1242.80 L555.60,1246.40 L558.30,1249.90 L560.10,1264.00 L562.60,1282.60 L564.20,1299.10 L565.50,1301.60 L567.10,1314.20 L568.30,1328.10 L570.80,1336.30 L573.40,1347.10 L576.20,1355.00 L578.40,1351.50 L581.00,1345.80 L582.20,1336.30 L583.50,1323.70 L584.70,1311.10 L586.30,1298.40 L587.90,1285.80 L589.50,1270.00 L591.90,1232.20 L594.50,1214.50 L597.20,1189.80 L599.80,1161.50 L602.50,1152.60 L604.30,1147.30 L606.00,1134.90 L607.80,1126.10 L610.50,1119.00 L612.20,1101.30 L614.00,1087.20 L614.90,1073.00 L616.60,1060.70 L618.40,1044.80 L619.70,1038.60 L620.70,1043.00 L622.00,1047.40 L623.70,1041.20 L626.40,1042.10 L628.10,1051.80 L629.90,1071.30 L631.70,1072.20 L633.40,1087.20 L636.10,1104.90 L638.80,1129.60 L641.40,1154.40 L644.10,1173.80 L645.80,1189.80 L646.70,1200.40 L647.60,1208.30" stroke="#1a88f0" stroke-width="1.4" fill="none" stroke-linejoin="round" stroke-linecap="round"/>
<path d="M229.40,1051.90 L230.90,1050.17 L232.40,1048.70 L233.90,1047.29 L235.40,1045.86 L236.90,1044.45 L238.40,1043.08 L239.90,1041.80 L241.40,1040.62 L242.90,1039.55 L244.40,1038.61 L245.90,1037.75 L247.40,1036.96 L248.90,1036.21 L250.40,1035.47 L251.90,1034.73 L253.40,1033.99 L254.90,1033.26 L256.40,1032.56 L257.90,1031.91 L259.40,1031.33 L260.90,1030.80 L262.40,1030.32 L263.90,1029.88 L265.40,1029.49 L266.90,1029.14 L268.40,1028.83 L269.90,1028.55 L271.40,1028.31 L272.90,1028.09 L274.40,1027.90 L275.90,1027.75 L277.40,1027.64 L278.90,1027.57 L280.40,1027.55 L281.90,1027.57 L283.40,1027.61 L284.90,1027.67 L286.40,1027.75 L287.90,1027.84 L289.40,1027.96 L290.90,1028.10 L292.40,1028.27 L293.90,1028.48 L295.40,1028.71 L296.90,1028.95 L298.40,1029.20 L299.90,1029.46 L301.40,1029.73 L302.90,1030.00 L304.40,1030.29 L305.90,1030.59 L307.40,1030.89 L308.90,1031.20 L310.40,1031.52 L311.90,1031.84 L313.40,1032.18 L314.90,1032.54 L316.40,1032.95 L317.90,1033.43 L319.40,1033.99 L320.90,1034.65 L322.40,1035.41 L323.90,1036.27 L325.40,1037.19 L326.90,1038.18 L328.40,1039.24 L329.90,1040.36 L331.40,1041.55 L332.90,1042.80 L334.40,1044.12 L335.90,1045.50 L337.40,1046.94 L338.90,1048.43 L340.40,1049.98 L341.90,1051.57 L343.40,1053.21 L344.90,1054.91 L346.40,1056.67 L347.90,1058.49 L349.40,1060.37 L350.90,1062.34 L352.40,1064.39 L353.90,1066.53 L355.40,1068.80 L356.90,1071.18 L358.40,1073.68 L359.90,1076.29 L361.40,1078.98 L362.90,1081.72 L364.40,1084.50 L365.90,1087.27 L367.40,1090.03 L368.90,1092.77 L370.40,1095.47 L371.90,1098.15 L373.40,1100.82 L374.90,1103.48 L376.40,1106.15 L377.90,1108.83 L379.40,1111.52 L380.90,1114.24 L382.40,1116.98 L383.90,1119.75 L385.40,1122.54 L386.90,1125.36 L388.40,1128.20 L389.90,1131.07 L391.40,1133.96 L392.90,1136.89 L394.40,1139.85 L395.90,1142.86 L397.40,1145.93 L398.90,1149.06 L400.40,1152.28 L401.90,1155.58 L403.40,1158.94 L404.90,1162.35 L406.40,1165.74 L407.90,1169.10 L409.40,1172.38 L410.90,1175.60 L412.40,1178.75 L413.90,1181.85 L415.40,1184.91 L416.90,1187.92 L418.40,1190.88 L419.90,1193.80 L421.40,1196.67 L422.90,1199.50 L424.40,1202.28 L425.90,1205.02 L427.40,1207.73 L428.90,1210.40 L430.40,1213.04 L431.90,1215.67 L433.40,1218.28 L434.90,1220.88 L436.40,1223.47 L437.90,1226.06 L439.40,1228.63 L440.90,1231.19 L442.40,1233.74 L443.90,1236.28 L445.40,1238.81 L446.90,1241.32 L448.40,1243.83 L449.90,1246.34 L451.40,1248.85 L452.90,1251.37 L454.40,1253.89 L455.90,1256.40 L457.40,1258.88 L458.90,1261.31 L460.40,1263.67 L461.90,1265.95 L463.40,1268.15 L464.90,1270.29 L466.40,1272.37 L467.90,1274.37 L469.40,1276.30 L470.90,1278.13 L472.40,1279.85 L473.90,1281.49 L475.40,1283.03 L476.90,1284.51 L478.40,1285.91 L479.90,1287.23 L481.40,1288.45 L482.90,1289.58 L484.40,1290.59 L485.90,1291.52 L487.40,1292.38 L488.90,1293.18 L490.40,1293.94 L491.90,1294.64 L493.40,1295.27 L494.90,1295.80 L496.40,1296.20 L497.90,1296.48 L499.40,1296.62 L500.90,1296.64 L502.40,1296.56 L503.90,1296.40 L505.40,1296.19 L506.90,1295.92 L508.40,1295.61 L509.90,1295.22 L511.40,1294.75 L512.90,1294.15 L514.40,1293.40 L515.90,1292.52 L517.40,1291.50 L518.90,1290.39 L520.40,1289.19 L521.90,1287.94 L523.40,1286.65 L524.90,1285.33 L526.40,1283.99 L527.90,1282.60 L529.40,1281.15 L530.90,1279.64 L532.40,1278.05 L533.90,1276.40 L535.40,1274.68 L536.90,1272.91 L538.40,1271.10 L539.90,1269.23 L541.40,1267.31 L542.90,1265.32 L544.40,1263.26 L545.90,1261.13 L547.40,1258.92 L548.90,1256.66 L550.40,1254.36 L551.90,1252.02 L553.40,1249.66 L554.90,1247.28 L556.40,1244.88 L557.90,1242.47 L559.40,1240.03 L560.90,1237.57 L562.40,1235.08 L563.90,1232.56 L565.40,1230.02 L566.90,1227.44 L568.40,1224.84 L569.90,1222.21 L571.40,1219.55 L572.90,1216.85 L574.40,1214.13 L575.90,1211.36 L577.40,1208.57 L578.90,1205.74 L580.40,1202.88 L581.90,1199.99 L583.40,1197.07 L584.90,1194.13 L586.40,1191.16 L587.90,1188.16 L589.40,1185.15 L590.90,1182.10 L592.40,1179.03 L593.90,1175.93 L595.40,1172.80 L596.90,1169.64 L598.40,1166.45 L599.90,1163.24 L601.40,1159.99 L602.90,1156.71 L604.40,1153.37 L605.90,1149.99 L607.40,1146.55 L608.90,1143.07 L610.40,1139.57 L611.90,1136.07 L613.40,1132.59 L614.90,1129.15 L616.40,1125.77 L617.90,1122.44 L619.40,1119.18 L620.90,1115.96 L622.40,1112.78 L623.90,1109.64 L625.40,1106.54 L626.90,1103.49 L628.40,1100.50 L629.90,1097.59 L631.40,1094.75 L632.90,1092.00 L634.40,1089.34 L635.90,1086.77 L637.40,1084.26 L638.90,1081.83 L640.40,1079.47 L641.90,1077.20 L643.40,1075.02 L644.90,1072.92 L646.40,1070.82" stroke="#ff0000" stroke-width="2.6" fill="none" stroke-linejoin="round" stroke-linecap="round"/>
<line x1="187.50" y1="1348.50" x2="282.50" y2="1348.50" stroke="#ff0000" stroke-width="4.2" stroke-linecap="round"/>
<text x="304.3" y="1358.0" font-family='"Liberation Serif", serif' font-size="35" font-weight="normal" text-anchor="start" fill="#000">Subtidal</text>
<line x1="187.50" y1="1402.70" x2="282.50" y2="1402.70" stroke="#1a88f0" stroke-width="2" stroke-linecap="round"/>
<text x="304.6" y="1413.5" font-family='"Liberation Serif", serif' font-size="34.6" font-weight="normal" text-anchor="start" fill="#000">Measured</text>
<text x="114.5" y="909.2" font-family='"Liberation Serif", serif' font-size="34" font-weight="normal" text-anchor="end" fill="#000">0.3</text>
<line x1="132.80" y1="975.90" x2="144.80" y2="975.90" stroke="#222" stroke-width="1.5" stroke-linecap="butt"/>
<text x="114.5" y="991.4" font-family='"Liberation Serif", serif' font-size="34" font-weight="normal" text-anchor="end" fill="#000">0.2</text>
<line x1="132.80" y1="1059.60" x2="144.80" y2="1059.60" stroke="#222" stroke-width="1.5" stroke-linecap="butt"/>
<text x="114.5" y="1073.5" font-family='"Liberation Serif", serif' font-size="34" font-weight="normal" text-anchor="end" fill="#000">0.1</text>
<line x1="132.80" y1="1143.30" x2="144.80" y2="1143.30" stroke="#222" stroke-width="1.5" stroke-linecap="butt"/>
<text x="114.5" y="1155.7" font-family='"Liberation Serif", serif' font-size="34" font-weight="normal" text-anchor="end" fill="#000">0</text>
<line x1="132.80" y1="1227.00" x2="144.80" y2="1227.00" stroke="#222" stroke-width="1.5" stroke-linecap="butt"/>
<text x="114.5" y="1237.9" font-family='"Liberation Serif", serif' font-size="34" font-weight="normal" text-anchor="end" fill="#000">-0.1</text>
<line x1="132.80" y1="1310.70" x2="144.80" y2="1310.70" stroke="#222" stroke-width="1.5" stroke-linecap="butt"/>
<text x="114.5" y="1320.1" font-family='"Liberation Serif", serif' font-size="34" font-weight="normal" text-anchor="end" fill="#000">-0.2</text>
<line x1="132.80" y1="1394.40" x2="144.80" y2="1394.40" stroke="#222" stroke-width="1.5" stroke-linecap="butt"/>
<text x="114.5" y="1402.2" font-family='"Liberation Serif", serif' font-size="34" font-weight="normal" text-anchor="end" fill="#000">-0.3</text>
<text x="114.5" y="1484.4" font-family='"Liberation Serif", serif' font-size="34" font-weight="normal" text-anchor="end" fill="#000">-0.4</text>
<line x1="230.00" y1="1477.80" x2="230.00" y2="1465.80" stroke="#333" stroke-width="1.5" stroke-linecap="butt"/>
<line x1="327.25" y1="1477.80" x2="327.25" y2="1465.80" stroke="#333" stroke-width="1.5" stroke-linecap="butt"/>
<line x1="424.50" y1="1477.80" x2="424.50" y2="1465.80" stroke="#333" stroke-width="1.5" stroke-linecap="butt"/>
<line x1="521.75" y1="1477.80" x2="521.75" y2="1465.80" stroke="#333" stroke-width="1.5" stroke-linecap="butt"/>
<line x1="619.00" y1="1477.80" x2="619.00" y2="1465.80" stroke="#333" stroke-width="1.5" stroke-linecap="butt"/>
<text x="232.3" y="1522.5" font-family='"Liberation Serif", serif' font-size="34" font-weight="normal" text-anchor="middle" fill="#000">9/21/21</text>
<text x="423.5" y="1522.5" font-family='"Liberation Serif", serif' font-size="34" font-weight="normal" text-anchor="middle" fill="#000">9/23/21</text>
<text x="623.6" y="1522.5" font-family='"Liberation Serif", serif' font-size="34" font-weight="normal" text-anchor="middle" fill="#000">9/25/21</text>
<rect x="132.8" y="892.9" width="584.5" height="584.9" fill="none" stroke="#1a1a1a" stroke-width="1.6"/>
<text x="436.0" y="864.5" font-family='"Liberation Serif", serif' font-size="35" font-weight="normal" text-anchor="middle" fill="#000">Water Level at LAWMA (WW2)</text>
<text x="37.0" y="856.8" font-family='"Liberation Sans", sans-serif' font-size="29" font-weight="bold" text-anchor="start" fill="#000">C</text>
<text x="420.5" y="1580.5" font-family='"Liberation Serif", serif' font-size="35" font-weight="normal" text-anchor="middle" fill="#000">Time</text>
<text transform="translate(27.6,1176.1) rotate(-90)" font-family='"Liberation Serif", serif' font-size="35" text-anchor="middle" fill="#000">Water Level (m)</text>
<path d="M871.90,1046.36 L872.40,1046.60 L872.90,1046.83 L873.40,1047.08 L873.90,1047.33 L874.40,1047.58 L874.90,1047.84 L875.40,1048.10 L875.90,1048.36 L876.40,1048.63 L876.90,1048.91 L877.40,1049.19 L877.90,1049.48 L878.40,1049.77 L878.90,1050.06 L879.40,1050.36 L879.90,1050.66 L880.40,1050.97 L880.90,1051.28 L881.40,1051.60 L881.90,1051.92 L882.40,1052.24 L882.90,1052.57 L883.40,1052.91 L883.90,1053.25 L884.40,1053.59 L884.90,1053.94 L885.40,1054.29 L885.90,1054.65 L886.40,1055.01 L886.90,1055.37 L887.40,1055.74 L887.90,1056.12 L888.40,1056.49 L888.90,1056.88 L889.40,1057.26 L889.90,1057.65 L890.40,1058.05 L890.90,1058.45 L891.40,1058.85 L891.90,1059.25 L892.40,1059.67 L892.90,1060.08 L893.40,1060.50 L893.90,1060.92 L894.40,1061.35 L894.90,1061.78 L895.40,1062.22 L895.90,1062.66 L896.40,1063.10 L896.90,1063.55 L897.40,1064.00 L897.90,1064.45 L898.40,1064.91 L898.90,1065.37 L899.40,1065.84 L899.90,1066.31 L900.40,1066.78 L900.90,1067.26 L901.40,1067.74 L901.90,1068.23 L902.40,1068.72 L902.90,1069.21 L903.40,1069.70 L903.90,1070.20 L904.40,1070.71 L904.90,1071.21 L905.40,1071.72 L905.90,1072.24 L906.40,1072.75 L906.90,1073.27 L907.40,1073.80 L907.90,1074.32 L908.40,1074.85 L908.90,1075.39 L909.40,1075.92 L909.90,1076.47 L910.40,1077.01 L910.90,1077.56 L911.40,1078.11 L911.90,1078.66 L912.40,1079.22 L912.90,1079.78 L913.40,1080.34 L913.90,1080.90 L914.40,1081.47 L914.90,1082.04 L915.40,1082.62 L915.90,1083.20 L916.40,1083.78 L916.90,1084.36 L917.40,1084.95 L917.90,1085.54 L918.40,1086.13 L918.90,1086.72 L919.40,1087.32 L919.90,1087.92 L920.40,1088.53 L920.90,1089.13 L921.40,1089.74 L921.90,1090.35 L922.40,1090.96 L922.90,1091.58 L923.40,1092.20 L923.90,1092.82 L924.40,1093.44 L924.90,1094.07 L925.40,1094.70 L925.90,1095.33 L926.40,1095.96 L926.90,1096.60 L927.40,1097.24 L927.90,1097.88 L928.40,1098.52 L928.90,1099.16 L929.40,1099.81 L929.90,1100.46 L930.40,1101.11 L930.90,1101.76 L931.40,1102.42 L931.90,1103.07 L932.40,1103.73 L932.90,1104.39 L933.40,1105.05 L933.90,1105.72 L934.40,1106.38 L934.90,1107.05 L935.40,1107.72 L935.90,1108.39 L936.40,1109.07 L936.90,1109.74 L937.40,1110.42 L937.90,1111.10 L938.40,1111.78 L938.90,1112.46 L939.40,1113.14 L939.90,1113.83 L940.40,1114.51 L940.90,1115.20 L941.40,1115.89 L941.90,1116.58 L942.40,1117.27 L942.90,1117.96 L943.40,1118.65 L943.90,1119.35 L944.40,1120.04 L944.90,1120.74 L945.40,1121.44 L945.90,1122.14 L946.40,1122.84 L946.90,1123.54 L947.40,1124.24 L947.90,1124.95 L948.40,1125.65 L948.90,1126.36 L949.40,1127.06 L949.90,1127.77 L950.40,1128.48 L950.90,1129.18 L951.40,1129.89 L951.90,1130.60 L952.40,1131.31 L952.90,1132.02 L953.40,1132.73 L953.90,1133.45 L954.40,1134.16 L954.90,1134.87 L955.40,1135.58 L955.90,1136.30 L956.40,1137.01 L956.90,1137.72 L957.40,1138.44 L957.90,1139.15 L958.40,1139.87 L958.90,1140.58 L959.40,1141.30 L959.90,1142.01 L960.40,1142.73 L960.90,1143.44 L961.40,1144.16 L961.90,1144.87 L962.40,1145.59 L962.90,1146.30 L963.40,1147.02 L963.90,1147.73 L964.40,1148.45 L964.90,1149.16 L965.40,1149.88 L965.90,1150.59 L966.40,1151.30 L966.90,1152.02 L967.40,1152.73 L967.90,1153.44 L968.40,1154.15 L968.90,1154.86 L969.40,1155.57 L969.90,1156.28 L970.40,1156.99 L970.90,1157.70 L971.40,1158.41 L971.90,1159.11 L972.40,1159.82 L972.90,1160.53 L973.40,1161.23 L973.90,1161.93 L974.40,1162.64 L974.90,1163.34 L975.40,1164.04 L975.90,1164.74 L976.40,1165.44 L976.90,1166.14 L977.40,1166.83 L977.90,1167.53 L978.40,1168.22 L978.90,1168.92 L979.40,1169.61 L979.90,1170.30 L980.40,1170.99 L980.90,1171.68 L981.40,1172.36 L981.90,1173.05 L982.40,1173.73 L982.90,1174.41 L983.40,1175.09 L983.90,1175.77 L984.40,1176.45 L984.90,1177.13 L985.40,1177.80 L985.90,1178.47 L986.40,1179.15 L986.90,1179.81 L987.40,1180.48 L987.90,1181.15 L988.40,1181.81 L988.90,1182.47 L989.40,1183.13 L989.90,1183.79 L990.40,1184.45 L990.90,1185.10 L991.40,1185.75 L991.90,1186.40 L992.40,1187.05 L992.90,1187.70 L993.40,1188.34 L993.90,1188.98 L994.40,1189.62 L994.90,1190.26 L995.40,1190.89 L995.90,1191.52 L996.40,1192.15 L996.90,1192.78 L997.40,1193.41 L997.90,1194.03 L998.40,1194.65 L998.90,1195.27 L999.40,1195.88 L999.90,1196.49 L1000.40,1197.10 L1000.90,1197.71 L1001.40,1198.32 L1001.90,1198.92 L1002.40,1199.52 L1002.90,1200.11 L1003.40,1200.71 L1003.90,1201.30 L1004.40,1201.89 L1004.90,1202.47 L1005.40,1203.05 L1005.90,1203.63 L1006.40,1204.21 L1006.90,1204.78 L1007.40,1205.36 L1007.90,1205.92 L1008.40,1206.49 L1008.90,1207.05 L1009.40,1207.61 L1009.90,1208.16 L1010.40,1208.71 L1010.90,1209.26 L1011.40,1209.81 L1011.90,1210.35 L1012.40,1210.89 L1012.90,1211.43 L1013.40,1211.96 L1013.90,1212.49 L1014.40,1213.01 L1014.90,1213.54 L1015.40,1214.06 L1015.90,1214.57 L1016.40,1215.08 L1016.90,1215.59 L1017.40,1216.10 L1017.90,1216.60 L1018.40,1217.10 L1018.90,1217.59 L1019.40,1218.08 L1019.90,1218.57 L1020.40,1219.05 L1020.90,1219.53 L1021.40,1220.01 L1021.90,1220.48 L1022.40,1220.95 L1022.90,1221.41 L1023.40,1221.87 L1023.90,1222.33 L1024.40,1222.78 L1024.90,1223.23 L1025.40,1223.68 L1025.90,1224.12 L1026.40,1224.56 L1026.90,1224.99 L1027.40,1225.42 L1027.90,1225.85 L1028.40,1226.27 L1028.90,1226.69 L1029.40,1227.10 L1029.90,1227.51 L1030.40,1227.91 L1030.90,1228.31 L1031.40,1228.71 L1031.90,1229.10 L1032.40,1229.49 L1032.90,1229.88 L1033.40,1230.26 L1033.90,1230.63 L1034.40,1231.01 L1034.90,1231.37 L1035.40,1231.74 L1035.90,1232.10 L1036.40,1232.45 L1036.90,1232.80 L1037.40,1233.15 L1037.90,1233.49 L1038.40,1233.83 L1038.90,1234.16 L1039.40,1234.49 L1039.90,1234.81 L1040.40,1235.13 L1040.90,1235.44 L1041.40,1235.75 L1041.90,1236.06 L1042.40,1236.36 L1042.90,1236.66 L1043.40,1236.95 L1043.90,1237.24 L1044.40,1237.52 L1044.90,1237.80 L1045.40,1238.07 L1045.90,1238.34 L1046.40,1238.61 L1046.90,1238.87 L1047.40,1239.12 L1047.90,1239.37 L1048.40,1239.62 L1048.90,1239.86 L1049.40,1240.10 L1049.90,1240.33 L1050.40,1240.56 L1050.90,1240.78 L1051.40,1241.00 L1051.90,1241.21 L1052.40,1241.42 L1052.90,1241.62 L1053.40,1241.82 L1053.90,1242.01 L1054.40,1242.20 L1054.90,1242.39 L1055.40,1242.57 L1055.90,1242.74 L1056.40,1242.91 L1056.90,1243.08 L1057.40,1243.24 L1057.90,1243.39 L1058.40,1243.54 L1058.90,1243.69 L1059.40,1243.83 L1059.90,1243.96 L1060.40,1244.09 L1060.90,1244.22 L1061.40,1244.34 L1061.90,1244.45 L1062.40,1244.57 L1062.90,1244.67 L1063.40,1244.77 L1063.90,1244.87 L1064.40,1244.96 L1064.90,1245.05 L1065.40,1245.13 L1065.90,1245.20 L1066.40,1245.27 L1066.90,1245.34 L1067.40,1245.40 L1067.90,1245.46 L1068.40,1245.51 L1068.90,1245.56 L1069.40,1245.60 L1069.90,1245.63 L1070.40,1245.67 L1070.90,1245.69 L1071.40,1245.71 L1071.90,1245.73 L1072.40,1245.74 L1072.90,1245.75 L1073.40,1245.75 L1073.90,1245.75 L1074.40,1245.74 L1074.90,1245.72 L1075.40,1245.71 L1075.90,1245.68 L1076.40,1245.65 L1076.90,1245.62 L1077.40,1245.58 L1077.90,1245.54 L1078.40,1245.49 L1078.90,1245.44 L1079.40,1245.38 L1079.90,1245.32 L1080.40,1245.25 L1080.90,1245.17 L1081.40,1245.10 L1081.90,1245.01 L1082.40,1244.92 L1082.90,1244.83 L1083.40,1244.73 L1083.90,1244.63 L1084.40,1244.52 L1084.90,1244.41 L1085.40,1244.29 L1085.90,1244.17 L1086.40,1244.04 L1086.90,1243.91 L1087.40,1243.77 L1087.90,1243.63 L1088.40,1243.48 L1088.90,1243.33 L1089.40,1243.17 L1089.90,1243.01 L1090.40,1242.84 L1090.90,1242.67 L1091.40,1242.50 L1091.90,1242.31 L1092.40,1242.13 L1092.90,1241.94 L1093.40,1241.74 L1093.90,1241.54 L1094.40,1241.34 L1094.90,1241.13 L1095.40,1240.91 L1095.90,1240.69 L1096.40,1240.47 L1096.90,1240.24 L1097.40,1240.00 L1097.90,1239.77 L1098.40,1239.52 L1098.90,1239.27 L1099.40,1239.02 L1099.90,1238.76 L1100.40,1238.50 L1100.90,1238.24 L1101.40,1237.97 L1101.90,1237.69 L1102.40,1237.41 L1102.90,1237.12 L1103.40,1236.83 L1103.90,1236.54 L1104.40,1236.24 L1104.90,1235.94 L1105.40,1235.63 L1105.90,1235.32 L1106.40,1235.00 L1106.90,1234.68 L1107.40,1234.36 L1107.90,1234.03 L1108.40,1233.69 L1108.90,1233.35 L1109.40,1233.01 L1109.90,1232.66 L1110.40,1232.31 L1110.90,1231.95 L1111.40,1231.59 L1111.90,1231.23 L1112.40,1230.86 L1112.90,1230.48 L1113.40,1230.11 L1113.90,1229.72 L1114.40,1229.34 L1114.90,1228.95 L1115.40,1228.55 L1115.90,1228.15 L1116.40,1227.75 L1116.90,1227.35 L1117.40,1226.93 L1117.90,1226.52 L1118.40,1226.10 L1118.90,1225.68 L1119.40,1225.25 L1119.90,1224.82 L1120.40,1224.38 L1120.90,1223.94 L1121.40,1223.50 L1121.90,1223.05 L1122.40,1222.60 L1122.90,1222.15 L1123.40,1221.69 L1123.90,1221.23 L1124.40,1220.76 L1124.90,1220.29 L1125.40,1219.82 L1125.90,1219.34 L1126.40,1218.86 L1126.90,1218.37 L1127.40,1217.88 L1127.90,1217.39 L1128.40,1216.90 L1128.90,1216.40 L1129.40,1215.89 L1129.90,1215.39 L1130.40,1214.88 L1130.90,1214.36 L1131.40,1213.85 L1131.90,1213.33 L1132.40,1212.80 L1132.90,1212.28 L1133.40,1211.75 L1133.90,1211.21 L1134.40,1210.68 L1134.90,1210.13 L1135.40,1209.59 L1135.90,1209.04 L1136.40,1208.49 L1136.90,1207.94 L1137.40,1207.38 L1137.90,1206.82 L1138.40,1206.26 L1138.90,1205.70 L1139.40,1205.13 L1139.90,1204.56 L1140.40,1203.98 L1140.90,1203.40 L1141.40,1202.82 L1141.90,1202.24 L1142.40,1201.65 L1142.90,1201.06 L1143.40,1200.47 L1143.90,1199.88 L1144.40,1199.28 L1144.90,1198.68 L1145.40,1198.07 L1145.90,1197.47 L1146.40,1196.86 L1146.90,1196.25 L1147.40,1195.64 L1147.90,1195.02 L1148.40,1194.40 L1148.90,1193.78 L1149.40,1193.16 L1149.90,1192.53 L1150.40,1191.90 L1150.90,1191.27 L1151.40,1190.64 L1151.90,1190.00 L1152.40,1189.36 L1152.90,1188.72 L1153.40,1188.08 L1153.90,1187.44 L1154.40,1186.79 L1154.90,1186.14 L1155.40,1185.49 L1155.90,1184.84 L1156.40,1184.18 L1156.90,1183.53 L1157.40,1182.87 L1157.90,1182.21 L1158.40,1181.55 L1158.90,1180.88 L1159.40,1180.22 L1159.90,1179.55 L1160.40,1178.88 L1160.90,1178.21 L1161.40,1177.53 L1161.90,1176.86 L1162.40,1176.18 L1162.90,1175.50 L1163.40,1174.82 L1163.90,1174.14 L1164.40,1173.46 L1164.90,1172.77 L1165.40,1172.09 L1165.90,1171.40 L1166.40,1170.71 L1166.90,1170.02 L1167.40,1169.33 L1167.90,1168.64 L1168.40,1167.95 L1168.90,1167.25 L1169.40,1166.56 L1169.90,1165.86 L1170.40,1165.16 L1170.90,1164.46 L1171.40,1163.76 L1171.90,1163.06 L1172.40,1162.36 L1172.90,1161.65 L1173.40,1160.95 L1173.90,1160.24 L1174.40,1159.54 L1174.90,1158.83 L1175.40,1158.12 L1175.90,1157.42 L1176.40,1156.71 L1176.90,1156.00 L1177.40,1155.29 L1177.90,1154.58 L1178.40,1153.87 L1178.90,1153.15 L1179.40,1152.44 L1179.90,1151.73 L1180.40,1151.02 L1180.90,1150.30 L1181.40,1149.59 L1181.90,1148.88 L1182.40,1148.16 L1182.90,1147.45 L1183.40,1146.73 L1183.90,1146.02 L1184.40,1145.30 L1184.90,1144.59 L1185.40,1143.87 L1185.90,1143.16 L1186.40,1142.44 L1186.90,1141.73 L1187.40,1141.01 L1187.90,1140.30 L1188.40,1139.58 L1188.90,1138.87 L1189.40,1138.15 L1189.90,1137.44 L1190.40,1136.72 L1190.90,1136.01 L1191.40,1135.30 L1191.90,1134.58 L1192.40,1133.87 L1192.90,1133.16 L1193.40,1132.45 L1193.90,1131.74 L1194.40,1131.03 L1194.90,1130.32 L1195.40,1129.61 L1195.90,1128.90 L1196.40,1128.19 L1196.90,1127.49 L1197.40,1126.78 L1197.90,1126.07 L1198.40,1125.37 L1198.90,1124.67 L1199.40,1123.96 L1199.90,1123.26 L1200.40,1122.56 L1200.90,1121.86 L1201.40,1121.16 L1201.90,1120.46 L1202.40,1119.77 L1202.90,1119.07 L1203.40,1118.38 L1203.90,1117.68 L1204.40,1116.99 L1204.90,1116.30 L1205.40,1115.61 L1205.90,1114.92 L1206.40,1114.24 L1206.90,1113.55 L1207.40,1112.87 L1207.90,1112.19 L1208.40,1111.51 L1208.90,1110.83 L1209.40,1110.15 L1209.90,1109.47 L1210.40,1108.80 L1210.90,1108.13 L1211.40,1107.45 L1211.90,1106.79 L1212.40,1106.12 L1212.90,1105.45 L1213.40,1104.79 L1213.90,1104.13 L1214.40,1103.47 L1214.90,1102.81 L1215.40,1102.15 L1215.90,1101.50 L1216.40,1100.85 L1216.90,1100.20 L1217.40,1099.55 L1217.90,1098.90 L1218.40,1098.26 L1218.90,1097.62 L1219.40,1096.98 L1219.90,1096.34 L1220.40,1095.71 L1220.90,1095.08 L1221.40,1094.45 L1221.90,1093.82 L1222.40,1093.19 L1222.90,1092.57 L1223.40,1091.95 L1223.90,1091.33 L1224.40,1090.72 L1224.90,1090.11 L1225.40,1089.50 L1225.90,1088.89 L1226.40,1088.28 L1226.90,1087.68 L1227.40,1087.08 L1227.90,1086.49 L1228.40,1085.89 L1228.90,1085.30 L1229.40,1084.71 L1229.90,1084.13 L1230.40,1083.55 L1230.90,1082.97 L1231.40,1082.39 L1231.90,1081.82 L1232.40,1081.24 L1232.90,1080.68 L1233.40,1080.11 L1233.90,1079.55 L1234.40,1078.99 L1234.90,1078.44 L1235.40,1077.89 L1235.90,1077.34 L1236.40,1076.79 L1236.90,1076.25 L1237.40,1075.71 L1237.90,1075.17 L1238.40,1074.64 L1238.90,1074.11 L1239.40,1073.59 L1239.90,1073.06 L1240.40,1072.54 L1240.90,1072.03 L1241.40,1071.52 L1241.90,1071.01 L1242.40,1070.50 L1242.90,1070.00 L1243.40,1069.50 L1243.90,1069.01 L1244.40,1068.52 L1244.90,1068.03 L1245.40,1067.55 L1245.90,1067.07 L1246.40,1066.59 L1246.90,1066.12 L1247.40,1065.65 L1247.90,1065.19 L1248.40,1064.73 L1248.90,1064.27 L1249.40,1063.82 L1249.90,1063.37 L1250.40,1062.92 L1250.90,1062.48 L1251.40,1062.04 L1251.90,1061.61 L1252.40,1061.18 L1252.90,1060.75 L1253.40,1060.33 L1253.90,1059.91 L1254.40,1059.50 L1254.90,1059.09 L1255.40,1058.69 L1255.90,1058.29 L1256.40,1057.89 L1256.90,1057.50 L1257.40,1057.11 L1257.90,1056.72 L1258.40,1056.34 L1258.90,1055.97 L1259.40,1055.59 L1259.90,1055.23 L1260.40,1054.86 L1260.90,1054.50 L1261.40,1054.15 L1261.90,1053.80 L1262.40,1053.45 L1262.90,1053.11 L1263.40,1052.77 L1263.90,1052.44 L1264.40,1052.11 L1264.90,1051.79 L1265.40,1051.47 L1265.90,1051.16 L1266.40,1050.85 L1266.90,1050.54 L1267.40,1050.24 L1267.90,1049.94 L1268.40,1049.65 L1268.90,1049.36 L1269.40,1049.08 L1269.90,1048.80 L1270.40,1048.53 L1270.90,1048.26 L1271.40,1047.99 L1271.90,1047.73 L1272.40,1047.48 L1272.90,1047.23 L1273.40,1046.98 L1273.90,1046.74 L1274.40,1046.50 L1274.90,1046.27 L1275.40,1046.04 L1275.90,1045.82 L1276.40,1045.60 L1276.90,1045.39 L1277.40,1045.18 L1277.90,1044.98 L1278.40,1044.78 L1278.90,1044.59 L1279.40,1044.40 L1279.90,1044.21 L1280.40,1044.03 L1280.90,1043.86 L1281.40,1043.69 L1281.90,1043.52 L1282.40,1043.36 L1282.90,1043.21 L1283.40,1043.06 L1283.90,1042.91 L1284.40,1042.77 L1284.90,1042.64 L1285.40,1042.51 L1285.90,1042.38 L1286.40,1042.26 L1286.90,1042.15 L1287.40,1042.03 L1287.90,1041.93 L1288.40,1041.83 L1288.90,1041.73 L1289.40,1041.64 L1289.90,1041.55 L1290.40,1041.47 L1290.90,1041.40 L1291.40,1041.33 L1291.90,1041.26 L1292.40,1041.20 L1292.90,1041.14 L1293.40,1041.09 L1293.90,1041.04 L1294.40,1041.00 L1294.90,1040.97 L1295.40,1040.93 L1295.90,1040.91 L1296.40,1040.89 L1296.90,1040.87 L1297.40,1040.86 L1297.90,1040.85 L1298.40,1040.85 L1298.90,1040.85 L1299.40,1040.86 L1299.90,1040.88 L1300.40,1040.89 L1300.90,1040.92 L1301.40,1040.95 L1301.90,1040.98 L1302.40,1041.02 L1302.90,1041.06 L1303.40,1041.11 L1303.90,1041.16 L1304.40,1041.22 L1304.90,1041.28 L1305.40,1041.35 L1305.90,1041.43 L1306.40,1041.50 L1306.90,1041.59 L1307.40,1041.68 L1307.90,1041.77 L1308.40,1041.87 L1308.90,1041.97 L1309.40,1042.08 L1309.90,1042.19 L1310.40,1042.31 L1310.90,1042.43 L1311.40,1042.56 L1311.90,1042.69 L1312.40,1042.83 L1312.90,1042.97 L1313.40,1043.12 L1313.90,1043.27 L1314.40,1043.43 L1314.90,1043.59 L1315.40,1043.76 L1315.90,1043.93 L1316.40,1044.10 L1316.90,1044.29 L1317.40,1044.47 L1317.90,1044.66 L1318.40,1044.86 L1318.90,1045.06 L1319.40,1045.26 L1319.90,1045.47 L1320.40,1045.69 L1320.90,1045.91 L1321.40,1046.13 L1321.90,1046.36 L1322.40,1046.60 L1322.90,1046.83 L1323.40,1047.08" stroke="#ff9a33" stroke-width="2.2" fill="none" stroke-linejoin="round" stroke-linecap="round"/>
<path d="M871.90,1122.53 L872.40,1122.07 L872.90,1121.62 L873.40,1121.17 L873.90,1120.72 L874.40,1120.27 L874.90,1119.82 L875.40,1119.37 L875.90,1118.92 L876.40,1118.48 L876.90,1118.03 L877.40,1117.59 L877.90,1117.15 L878.40,1116.71 L878.90,1116.27 L879.40,1115.83 L879.90,1115.39 L880.40,1114.96 L880.90,1114.52 L881.40,1114.09 L881.90,1113.66 L882.40,1113.23 L882.90,1112.80 L883.40,1112.37 L883.90,1111.95 L884.40,1111.53 L884.90,1111.10 L885.40,1110.68 L885.90,1110.26 L886.40,1109.85 L886.90,1109.43 L887.40,1109.02 L887.90,1108.60 L888.40,1108.19 L888.90,1107.79 L889.40,1107.38 L889.90,1106.97 L890.40,1106.57 L890.90,1106.17 L891.40,1105.77 L891.90,1105.37 L892.40,1104.97 L892.90,1104.58 L893.40,1104.18 L893.90,1103.79 L894.40,1103.41 L894.90,1103.02 L895.40,1102.63 L895.90,1102.25 L896.40,1101.87 L896.90,1101.49 L897.40,1101.11 L897.90,1100.74 L898.40,1100.37 L898.90,1100.00 L899.40,1099.63 L899.90,1099.26 L900.40,1098.90 L900.90,1098.53 L901.40,1098.17 L901.90,1097.82 L902.40,1097.46 L902.90,1097.11 L903.40,1096.76 L903.90,1096.41 L904.40,1096.06 L904.90,1095.72 L905.40,1095.37 L905.90,1095.04 L906.40,1094.70 L906.90,1094.36 L907.40,1094.03 L907.90,1093.70 L908.40,1093.37 L908.90,1093.05 L909.40,1092.73 L909.90,1092.41 L910.40,1092.09 L910.90,1091.77 L911.40,1091.46 L911.90,1091.15 L912.40,1090.84 L912.90,1090.54 L913.40,1090.23 L913.90,1089.93 L914.40,1089.64 L914.90,1089.34 L915.40,1089.05 L915.90,1088.76 L916.40,1088.47 L916.90,1088.19 L917.40,1087.91 L917.90,1087.63 L918.40,1087.35 L918.90,1087.08 L919.40,1086.81 L919.90,1086.54 L920.40,1086.28 L920.90,1086.01 L921.40,1085.75 L921.90,1085.50 L922.40,1085.24 L922.90,1084.99 L923.40,1084.74 L923.90,1084.50 L924.40,1084.26 L924.90,1084.02 L925.40,1083.78 L925.90,1083.55 L926.40,1083.31 L926.90,1083.09 L927.40,1082.86 L927.90,1082.64 L928.40,1082.42 L928.90,1082.20 L929.40,1081.99 L929.90,1081.78 L930.40,1081.57 L930.90,1081.37 L931.40,1081.17 L931.90,1080.97 L932.40,1080.77 L932.90,1080.58 L933.40,1080.39 L933.90,1080.21 L934.40,1080.02 L934.90,1079.84 L935.40,1079.67 L935.90,1079.49 L936.40,1079.32 L936.90,1079.16 L937.40,1078.99 L937.90,1078.83 L938.40,1078.67 L938.90,1078.52 L939.40,1078.37 L939.90,1078.22 L940.40,1078.07 L940.90,1077.93 L941.40,1077.79 L941.90,1077.66 L942.40,1077.52 L942.90,1077.39 L943.40,1077.27 L943.90,1077.14 L944.40,1077.03 L944.90,1076.91 L945.40,1076.80 L945.90,1076.69 L946.40,1076.58 L946.90,1076.48 L947.40,1076.37 L947.90,1076.28 L948.40,1076.18 L948.90,1076.09 L949.40,1076.01 L949.90,1075.92 L950.40,1075.84 L950.90,1075.76 L951.40,1075.69 L951.90,1075.62 L952.40,1075.55 L952.90,1075.49 L953.40,1075.43 L953.90,1075.37 L954.40,1075.32 L954.90,1075.26 L955.40,1075.22 L955.90,1075.17 L956.40,1075.13 L956.90,1075.09 L957.40,1075.06 L957.90,1075.03 L958.40,1075.00 L958.90,1074.98 L959.40,1074.96 L959.90,1074.94 L960.40,1074.92 L960.90,1074.91 L961.40,1074.91 L961.90,1074.90 L962.40,1074.90 L962.90,1074.90 L963.40,1074.91 L963.90,1074.92 L964.40,1074.93 L964.90,1074.95 L965.40,1074.96 L965.90,1074.99 L966.40,1075.01 L966.90,1075.04 L967.40,1075.07 L967.90,1075.11 L968.40,1075.15 L968.90,1075.19 L969.40,1075.24 L969.90,1075.28 L970.40,1075.34 L970.90,1075.39 L971.40,1075.45 L971.90,1075.51 L972.40,1075.58 L972.90,1075.65 L973.40,1075.72 L973.90,1075.80 L974.40,1075.87 L974.90,1075.96 L975.40,1076.04 L975.90,1076.13 L976.40,1076.22 L976.90,1076.32 L977.40,1076.41 L977.90,1076.52 L978.40,1076.62 L978.90,1076.73 L979.40,1076.84 L979.90,1076.95 L980.40,1077.07 L980.90,1077.19 L981.40,1077.32 L981.90,1077.45 L982.40,1077.58 L982.90,1077.71 L983.40,1077.85 L983.90,1077.99 L984.40,1078.13 L984.90,1078.28 L985.40,1078.43 L985.90,1078.58 L986.40,1078.74 L986.90,1078.90 L987.40,1079.06 L987.90,1079.22 L988.40,1079.39 L988.90,1079.56 L989.40,1079.74 L989.90,1079.92 L990.40,1080.10 L990.90,1080.28 L991.40,1080.47 L991.90,1080.66 L992.40,1080.85 L992.90,1081.05 L993.40,1081.25 L993.90,1081.45 L994.40,1081.66 L994.90,1081.86 L995.40,1082.08 L995.90,1082.29 L996.40,1082.51 L996.90,1082.73 L997.40,1082.95 L997.90,1083.18 L998.40,1083.41 L998.90,1083.64 L999.40,1083.87 L999.90,1084.11 L1000.40,1084.35 L1000.90,1084.60 L1001.40,1084.84 L1001.90,1085.09 L1002.40,1085.34 L1002.90,1085.60 L1003.40,1085.86 L1003.90,1086.12 L1004.40,1086.38 L1004.90,1086.65 L1005.40,1086.92 L1005.90,1087.19 L1006.40,1087.46 L1006.90,1087.74 L1007.40,1088.02 L1007.90,1088.30 L1008.40,1088.59 L1008.90,1088.88 L1009.40,1089.17 L1009.90,1089.46 L1010.40,1089.75 L1010.90,1090.05 L1011.40,1090.35 L1011.90,1090.66 L1012.40,1090.96 L1012.90,1091.27 L1013.40,1091.58 L1013.90,1091.90 L1014.40,1092.21 L1014.90,1092.53 L1015.40,1092.85 L1015.90,1093.18 L1016.40,1093.50 L1016.90,1093.83 L1017.40,1094.16 L1017.90,1094.50 L1018.40,1094.83 L1018.90,1095.17 L1019.40,1095.51 L1019.90,1095.85 L1020.40,1096.20 L1020.90,1096.55 L1021.40,1096.90 L1021.90,1097.25 L1022.40,1097.60 L1022.90,1097.96 L1023.40,1098.32 L1023.90,1098.68 L1024.40,1099.04 L1024.90,1099.41 L1025.40,1099.77 L1025.90,1100.14 L1026.40,1100.51 L1026.90,1100.89 L1027.40,1101.26 L1027.90,1101.64 L1028.40,1102.02 L1028.90,1102.40 L1029.40,1102.79 L1029.90,1103.17 L1030.40,1103.56 L1030.90,1103.95 L1031.40,1104.34 L1031.90,1104.74 L1032.40,1105.13 L1032.90,1105.53 L1033.40,1105.93 L1033.90,1106.33 L1034.40,1106.73 L1034.90,1107.13 L1035.40,1107.54 L1035.90,1107.95 L1036.40,1108.36 L1036.90,1108.77 L1037.40,1109.18 L1037.90,1109.60 L1038.40,1110.01 L1038.90,1110.43 L1039.40,1110.85 L1039.90,1111.27 L1040.40,1111.70 L1040.90,1112.12 L1041.40,1112.55 L1041.90,1112.97 L1042.40,1113.40 L1042.90,1113.83 L1043.40,1114.26 L1043.90,1114.70 L1044.40,1115.13 L1044.90,1115.57 L1045.40,1116.00 L1045.90,1116.44 L1046.40,1116.88 L1046.90,1117.32 L1047.40,1117.77 L1047.90,1118.21 L1048.40,1118.65 L1048.90,1119.10 L1049.40,1119.55 L1049.90,1120.00 L1050.40,1120.45 L1050.90,1120.90 L1051.40,1121.35 L1051.90,1121.80 L1052.40,1122.25 L1052.90,1122.71 L1053.40,1123.16 L1053.90,1123.62 L1054.40,1124.08 L1054.90,1124.54 L1055.40,1125.00 L1055.90,1125.46 L1056.40,1125.92 L1056.90,1126.38 L1057.40,1126.85 L1057.90,1127.31 L1058.40,1127.77 L1058.90,1128.24 L1059.40,1128.71 L1059.90,1129.17 L1060.40,1129.64 L1060.90,1130.11 L1061.40,1130.58 L1061.90,1131.05 L1062.40,1131.52 L1062.90,1131.99 L1063.40,1132.46 L1063.90,1132.93 L1064.40,1133.40 L1064.90,1133.88 L1065.40,1134.35 L1065.90,1134.82 L1066.40,1135.30 L1066.90,1135.77 L1067.40,1136.25 L1067.90,1136.72 L1068.40,1137.20 L1068.90,1137.67 L1069.40,1138.15 L1069.90,1138.62 L1070.40,1139.10 L1070.90,1139.58 L1071.40,1140.05 L1071.90,1140.53 L1072.40,1141.01 L1072.90,1141.49 L1073.40,1141.96 L1073.90,1142.44 L1074.40,1142.92 L1074.90,1143.40 L1075.40,1143.87 L1075.90,1144.35 L1076.40,1144.83 L1076.90,1145.31 L1077.40,1145.78 L1077.90,1146.26 L1078.40,1146.74 L1078.90,1147.21 L1079.40,1147.69 L1079.90,1148.17 L1080.40,1148.64 L1080.90,1149.12 L1081.40,1149.59 L1081.90,1150.07 L1082.40,1150.54 L1082.90,1151.02 L1083.40,1151.49 L1083.90,1151.97 L1084.40,1152.44 L1084.90,1152.91 L1085.40,1153.39 L1085.90,1153.86 L1086.40,1154.33 L1086.90,1154.80 L1087.40,1155.27 L1087.90,1155.74 L1088.40,1156.21 L1088.90,1156.68 L1089.40,1157.15 L1089.90,1157.61 L1090.40,1158.08 L1090.90,1158.55 L1091.40,1159.01 L1091.90,1159.48 L1092.40,1159.94 L1092.90,1160.40 L1093.40,1160.86 L1093.90,1161.33 L1094.40,1161.79 L1094.90,1162.25 L1095.40,1162.70 L1095.90,1163.16 L1096.40,1163.62 L1096.90,1164.07 L1097.40,1164.53 L1097.90,1164.98 L1098.40,1165.43 L1098.90,1165.88 L1099.40,1166.33 L1099.90,1166.78 L1100.40,1167.23 L1100.90,1167.68 L1101.40,1168.12 L1101.90,1168.57 L1102.40,1169.01 L1102.90,1169.45 L1103.40,1169.89 L1103.90,1170.33 L1104.40,1170.77 L1104.90,1171.21 L1105.40,1171.64 L1105.90,1172.08 L1106.40,1172.51 L1106.90,1172.94 L1107.40,1173.37 L1107.90,1173.80 L1108.40,1174.23 L1108.90,1174.65 L1109.40,1175.07 L1109.90,1175.50 L1110.40,1175.92 L1110.90,1176.34 L1111.40,1176.75 L1111.90,1177.17 L1112.40,1177.58 L1112.90,1178.00 L1113.40,1178.41 L1113.90,1178.81 L1114.40,1179.22 L1114.90,1179.63 L1115.40,1180.03 L1115.90,1180.43 L1116.40,1180.83 L1116.90,1181.23 L1117.40,1181.63 L1117.90,1182.02 L1118.40,1182.42 L1118.90,1182.81 L1119.40,1183.19 L1119.90,1183.58 L1120.40,1183.97 L1120.90,1184.35 L1121.40,1184.73 L1121.90,1185.11 L1122.40,1185.49 L1122.90,1185.86 L1123.40,1186.23 L1123.90,1186.60 L1124.40,1186.97 L1124.90,1187.34 L1125.40,1187.70 L1125.90,1188.07 L1126.40,1188.43 L1126.90,1188.78 L1127.40,1189.14 L1127.90,1189.49 L1128.40,1189.84 L1128.90,1190.19 L1129.40,1190.54 L1129.90,1190.88 L1130.40,1191.23 L1130.90,1191.56 L1131.40,1191.90 L1131.90,1192.24 L1132.40,1192.57 L1132.90,1192.90 L1133.40,1193.23 L1133.90,1193.55 L1134.40,1193.87 L1134.90,1194.19 L1135.40,1194.51 L1135.90,1194.83 L1136.40,1195.14 L1136.90,1195.45 L1137.40,1195.76 L1137.90,1196.06 L1138.40,1196.37 L1138.90,1196.67 L1139.40,1196.96 L1139.90,1197.26 L1140.40,1197.55 L1140.90,1197.84 L1141.40,1198.13 L1141.90,1198.41 L1142.40,1198.69 L1142.90,1198.97 L1143.40,1199.25 L1143.90,1199.52 L1144.40,1199.79 L1144.90,1200.06 L1145.40,1200.32 L1145.90,1200.59 L1146.40,1200.85 L1146.90,1201.10 L1147.40,1201.36 L1147.90,1201.61 L1148.40,1201.86 L1148.90,1202.10 L1149.40,1202.34 L1149.90,1202.58 L1150.40,1202.82 L1150.90,1203.05 L1151.40,1203.29 L1151.90,1203.51 L1152.40,1203.74 L1152.90,1203.96 L1153.40,1204.18 L1153.90,1204.40 L1154.40,1204.61 L1154.90,1204.82 L1155.40,1205.03 L1155.90,1205.23 L1156.40,1205.43 L1156.90,1205.63 L1157.40,1205.83 L1157.90,1206.02 L1158.40,1206.21 L1158.90,1206.39 L1159.40,1206.58 L1159.90,1206.76 L1160.40,1206.93 L1160.90,1207.11 L1161.40,1207.28 L1161.90,1207.44 L1162.40,1207.61 L1162.90,1207.77 L1163.40,1207.93 L1163.90,1208.08 L1164.40,1208.23 L1164.90,1208.38 L1165.40,1208.53 L1165.90,1208.67 L1166.40,1208.81 L1166.90,1208.94 L1167.40,1209.08 L1167.90,1209.21 L1168.40,1209.33 L1168.90,1209.46 L1169.40,1209.57 L1169.90,1209.69 L1170.40,1209.80 L1170.90,1209.91 L1171.40,1210.02 L1171.90,1210.12 L1172.40,1210.23 L1172.90,1210.32 L1173.40,1210.42 L1173.90,1210.51 L1174.40,1210.59 L1174.90,1210.68 L1175.40,1210.76 L1175.90,1210.84 L1176.40,1210.91 L1176.90,1210.98 L1177.40,1211.05 L1177.90,1211.11 L1178.40,1211.17 L1178.90,1211.23 L1179.40,1211.28 L1179.90,1211.34 L1180.40,1211.38 L1180.90,1211.43 L1181.40,1211.47 L1181.90,1211.51 L1182.40,1211.54 L1182.90,1211.57 L1183.40,1211.60 L1183.90,1211.62 L1184.40,1211.64 L1184.90,1211.66 L1185.40,1211.68 L1185.90,1211.69 L1186.40,1211.69 L1186.90,1211.70 L1187.40,1211.70 L1187.90,1211.70 L1188.40,1211.69 L1188.90,1211.68 L1189.40,1211.67 L1189.90,1211.65 L1190.40,1211.64 L1190.90,1211.61 L1191.40,1211.59 L1191.90,1211.56 L1192.40,1211.53 L1192.90,1211.49 L1193.40,1211.45 L1193.90,1211.41 L1194.40,1211.36 L1194.90,1211.32 L1195.40,1211.26 L1195.90,1211.21 L1196.40,1211.15 L1196.90,1211.09 L1197.40,1211.02 L1197.90,1210.95 L1198.40,1210.88 L1198.90,1210.80 L1199.40,1210.73 L1199.90,1210.64 L1200.40,1210.56 L1200.90,1210.47 L1201.40,1210.38 L1201.90,1210.28 L1202.40,1210.19 L1202.90,1210.08 L1203.40,1209.98 L1203.90,1209.87 L1204.40,1209.76 L1204.90,1209.65 L1205.40,1209.53 L1205.90,1209.41 L1206.40,1209.28 L1206.90,1209.15 L1207.40,1209.02 L1207.90,1208.89 L1208.40,1208.75 L1208.90,1208.61 L1209.40,1208.47 L1209.90,1208.32 L1210.40,1208.17 L1210.90,1208.02 L1211.40,1207.86 L1211.90,1207.70 L1212.40,1207.54 L1212.90,1207.38 L1213.40,1207.21 L1213.90,1207.04 L1214.40,1206.86 L1214.90,1206.68 L1215.40,1206.50 L1215.90,1206.32 L1216.40,1206.13 L1216.90,1205.94 L1217.40,1205.75 L1217.90,1205.55 L1218.40,1205.35 L1218.90,1205.15 L1219.40,1204.94 L1219.90,1204.74 L1220.40,1204.52 L1220.90,1204.31 L1221.40,1204.09 L1221.90,1203.87 L1222.40,1203.65 L1222.90,1203.42 L1223.40,1203.19 L1223.90,1202.96 L1224.40,1202.73 L1224.90,1202.49 L1225.40,1202.25 L1225.90,1202.00 L1226.40,1201.76 L1226.90,1201.51 L1227.40,1201.26 L1227.90,1201.00 L1228.40,1200.74 L1228.90,1200.48 L1229.40,1200.22 L1229.90,1199.95 L1230.40,1199.68 L1230.90,1199.41 L1231.40,1199.14 L1231.90,1198.86 L1232.40,1198.58 L1232.90,1198.30 L1233.40,1198.01 L1233.90,1197.72 L1234.40,1197.43 L1234.90,1197.14 L1235.40,1196.85 L1235.90,1196.55 L1236.40,1196.25 L1236.90,1195.94 L1237.40,1195.64 L1237.90,1195.33 L1238.40,1195.02 L1238.90,1194.70 L1239.40,1194.39 L1239.90,1194.07 L1240.40,1193.75 L1240.90,1193.42 L1241.40,1193.10 L1241.90,1192.77 L1242.40,1192.44 L1242.90,1192.10 L1243.40,1191.77 L1243.90,1191.43 L1244.40,1191.09 L1244.90,1190.75 L1245.40,1190.40 L1245.90,1190.05 L1246.40,1189.70 L1246.90,1189.35 L1247.40,1189.00 L1247.90,1188.64 L1248.40,1188.28 L1248.90,1187.92 L1249.40,1187.56 L1249.90,1187.19 L1250.40,1186.83 L1250.90,1186.46 L1251.40,1186.09 L1251.90,1185.71 L1252.40,1185.34 L1252.90,1184.96 L1253.40,1184.58 L1253.90,1184.20 L1254.40,1183.81 L1254.90,1183.43 L1255.40,1183.04 L1255.90,1182.65 L1256.40,1182.26 L1256.90,1181.86 L1257.40,1181.47 L1257.90,1181.07 L1258.40,1180.67 L1258.90,1180.27 L1259.40,1179.87 L1259.90,1179.47 L1260.40,1179.06 L1260.90,1178.65 L1261.40,1178.24 L1261.90,1177.83 L1262.40,1177.42 L1262.90,1177.00 L1263.40,1176.59 L1263.90,1176.17 L1264.40,1175.75 L1264.90,1175.33 L1265.40,1174.90 L1265.90,1174.48 L1266.40,1174.05 L1266.90,1173.63 L1267.40,1173.20 L1267.90,1172.77 L1268.40,1172.34 L1268.90,1171.90 L1269.40,1171.47 L1269.90,1171.03 L1270.40,1170.60 L1270.90,1170.16 L1271.40,1169.72 L1271.90,1169.28 L1272.40,1168.83 L1272.90,1168.39 L1273.40,1167.95 L1273.90,1167.50 L1274.40,1167.05 L1274.90,1166.60 L1275.40,1166.15 L1275.90,1165.70 L1276.40,1165.25 L1276.90,1164.80 L1277.40,1164.35 L1277.90,1163.89 L1278.40,1163.44 L1278.90,1162.98 L1279.40,1162.52 L1279.90,1162.06 L1280.40,1161.60 L1280.90,1161.14 L1281.40,1160.68 L1281.90,1160.22 L1282.40,1159.75 L1282.90,1159.29 L1283.40,1158.83 L1283.90,1158.36 L1284.40,1157.89 L1284.90,1157.43 L1285.40,1156.96 L1285.90,1156.49 L1286.40,1156.02 L1286.90,1155.55 L1287.40,1155.08 L1287.90,1154.61 L1288.40,1154.14 L1288.90,1153.67 L1289.40,1153.20 L1289.90,1152.72 L1290.40,1152.25 L1290.90,1151.78 L1291.40,1151.30 L1291.90,1150.83 L1292.40,1150.35 L1292.90,1149.88 L1293.40,1149.40 L1293.90,1148.93 L1294.40,1148.45 L1294.90,1147.98 L1295.40,1147.50 L1295.90,1147.02 L1296.40,1146.55 L1296.90,1146.07 L1297.40,1145.59 L1297.90,1145.11 L1298.40,1144.64 L1298.90,1144.16 L1299.40,1143.68 L1299.90,1143.20 L1300.40,1142.73 L1300.90,1142.25 L1301.40,1141.77 L1301.90,1141.29 L1302.40,1140.82 L1302.90,1140.34 L1303.40,1139.86 L1303.90,1139.39 L1304.40,1138.91 L1304.90,1138.43 L1305.40,1137.96 L1305.90,1137.48 L1306.40,1137.01 L1306.90,1136.53 L1307.40,1136.06 L1307.90,1135.58 L1308.40,1135.11 L1308.90,1134.63 L1309.40,1134.16 L1309.90,1133.69 L1310.40,1133.21 L1310.90,1132.74 L1311.40,1132.27 L1311.90,1131.80 L1312.40,1131.33 L1312.90,1130.86 L1313.40,1130.39 L1313.90,1129.92 L1314.40,1129.45 L1314.90,1128.99 L1315.40,1128.52 L1315.90,1128.05 L1316.40,1127.59 L1316.90,1127.12 L1317.40,1126.66 L1317.90,1126.20 L1318.40,1125.74 L1318.90,1125.27 L1319.40,1124.81 L1319.90,1124.35 L1320.40,1123.90 L1320.90,1123.44 L1321.40,1122.98 L1321.90,1122.53 L1322.40,1122.07 L1322.90,1121.62 L1323.40,1121.17" stroke="#c52e02" stroke-width="2.2" fill="none" stroke-linejoin="round" stroke-linecap="round"/>
<path d="M871.90,1023.97 L872.40,1023.74 L872.90,1023.52 L873.40,1023.30 L873.90,1023.09 L874.40,1022.89 L874.90,1022.69 L875.40,1022.50 L875.90,1022.31 L876.40,1022.13 L876.90,1021.96 L877.40,1021.79 L877.90,1021.63 L878.40,1021.47 L878.90,1021.32 L879.40,1021.18 L879.90,1021.04 L880.40,1020.90 L880.90,1020.78 L881.40,1020.66 L881.90,1020.54 L882.40,1020.43 L882.90,1020.33 L883.40,1020.23 L883.90,1020.14 L884.40,1020.06 L884.90,1019.98 L885.40,1019.91 L885.90,1019.84 L886.40,1019.78 L886.90,1019.72 L887.40,1019.67 L887.90,1019.63 L888.40,1019.59 L888.90,1019.56 L889.40,1019.54 L889.90,1019.52 L890.40,1019.51 L890.90,1019.50 L891.40,1019.50 L891.90,1019.51 L892.40,1019.52 L892.90,1019.53 L893.40,1019.56 L893.90,1019.59 L894.40,1019.62 L894.90,1019.67 L895.40,1019.71 L895.90,1019.77 L896.40,1019.83 L896.90,1019.89 L897.40,1019.96 L897.90,1020.04 L898.40,1020.13 L898.90,1020.21 L899.40,1020.31 L899.90,1020.41 L900.40,1020.52 L900.90,1020.63 L901.40,1020.75 L901.90,1020.88 L902.40,1021.01 L902.90,1021.15 L903.40,1021.29 L903.90,1021.44 L904.40,1021.60 L904.90,1021.76 L905.40,1021.93 L905.90,1022.10 L906.40,1022.28 L906.90,1022.46 L907.40,1022.65 L907.90,1022.85 L908.40,1023.05 L908.90,1023.26 L909.40,1023.48 L909.90,1023.70 L910.40,1023.92 L910.90,1024.15 L911.40,1024.39 L911.90,1024.64 L912.40,1024.88 L912.90,1025.14 L913.40,1025.40 L913.90,1025.67 L914.40,1025.94 L914.90,1026.22 L915.40,1026.50 L915.90,1026.79 L916.40,1027.08 L916.90,1027.39 L917.40,1027.69 L917.90,1028.00 L918.40,1028.32 L918.90,1028.64 L919.40,1028.97 L919.90,1029.31 L920.40,1029.65 L920.90,1029.99 L921.40,1030.34 L921.90,1030.70 L922.40,1031.06 L922.90,1031.43 L923.40,1031.80 L923.90,1032.18 L924.40,1032.57 L924.90,1032.95 L925.40,1033.35 L925.90,1033.75 L926.40,1034.15 L926.90,1034.56 L927.40,1034.98 L927.90,1035.40 L928.40,1035.83 L928.90,1036.26 L929.40,1036.70 L929.90,1037.14 L930.40,1037.59 L930.90,1038.04 L931.40,1038.50 L931.90,1038.96 L932.40,1039.43 L932.90,1039.90 L933.40,1040.38 L933.90,1040.86 L934.40,1041.35 L934.90,1041.84 L935.40,1042.34 L935.90,1042.84 L936.40,1043.35 L936.90,1043.86 L937.40,1044.38 L937.90,1044.90 L938.40,1045.43 L938.90,1045.96 L939.40,1046.49 L939.90,1047.03 L940.40,1047.58 L940.90,1048.13 L941.40,1048.69 L941.90,1049.25 L942.40,1049.81 L942.90,1050.38 L943.40,1050.95 L943.90,1051.53 L944.40,1052.11 L944.90,1052.70 L945.40,1053.29 L945.90,1053.89 L946.40,1054.49 L946.90,1055.09 L947.40,1055.70 L947.90,1056.31 L948.40,1056.93 L948.90,1057.55 L949.40,1058.18 L949.90,1058.81 L950.40,1059.44 L950.90,1060.08 L951.40,1060.72 L951.90,1061.36 L952.40,1062.01 L952.90,1062.67 L953.40,1063.33 L953.90,1063.99 L954.40,1064.65 L954.90,1065.32 L955.40,1066.00 L955.90,1066.67 L956.40,1067.35 L956.90,1068.04 L957.40,1068.73 L957.90,1069.42 L958.40,1070.11 L958.90,1070.81 L959.40,1071.51 L959.90,1072.22 L960.40,1072.93 L960.90,1073.64 L961.40,1074.36 L961.90,1075.08 L962.40,1075.80 L962.90,1076.53 L963.40,1077.26 L963.90,1077.99 L964.40,1078.73 L964.90,1079.46 L965.40,1080.21 L965.90,1080.95 L966.40,1081.70 L966.90,1082.45 L967.40,1083.20 L967.90,1083.96 L968.40,1084.72 L968.90,1085.48 L969.40,1086.25 L969.90,1087.02 L970.40,1087.79 L970.90,1088.56 L971.40,1089.34 L971.90,1090.12 L972.40,1090.90 L972.90,1091.69 L973.40,1092.47 L973.90,1093.26 L974.40,1094.05 L974.90,1094.85 L975.40,1095.64 L975.90,1096.44 L976.40,1097.24 L976.90,1098.05 L977.40,1098.85 L977.90,1099.66 L978.40,1100.47 L978.90,1101.28 L979.40,1102.10 L979.90,1102.91 L980.40,1103.73 L980.90,1104.55 L981.40,1105.37 L981.90,1106.20 L982.40,1107.02 L982.90,1107.85 L983.40,1108.68 L983.90,1109.51 L984.40,1110.34 L984.90,1111.17 L985.40,1112.01 L985.90,1112.85 L986.40,1113.69 L986.90,1114.53 L987.40,1115.37 L987.90,1116.21 L988.40,1117.05 L988.90,1117.90 L989.40,1118.75 L989.90,1119.59 L990.40,1120.44 L990.90,1121.29 L991.40,1122.14 L991.90,1122.99 L992.40,1123.85 L992.90,1124.70 L993.40,1125.56 L993.90,1126.41 L994.40,1127.27 L994.90,1128.13 L995.40,1128.98 L995.90,1129.84 L996.40,1130.70 L996.90,1131.56 L997.40,1132.42 L997.90,1133.29 L998.40,1134.15 L998.90,1135.01 L999.40,1135.87 L999.90,1136.73 L1000.40,1137.60 L1000.90,1138.46 L1001.40,1139.32 L1001.90,1140.19 L1002.40,1141.05 L1002.90,1141.92 L1003.40,1142.78 L1003.90,1143.65 L1004.40,1144.51 L1004.90,1145.37 L1005.40,1146.24 L1005.90,1147.10 L1006.40,1147.97 L1006.90,1148.83 L1007.40,1149.69 L1007.90,1150.56 L1008.40,1151.42 L1008.90,1152.28 L1009.40,1153.14 L1009.90,1154.00 L1010.40,1154.86 L1010.90,1155.72 L1011.40,1156.58 L1011.90,1157.44 L1012.40,1158.30 L1012.90,1159.16 L1013.40,1160.02 L1013.90,1160.87 L1014.40,1161.73 L1014.90,1162.58 L1015.40,1163.43 L1015.90,1164.29 L1016.40,1165.14 L1016.90,1165.99 L1017.40,1166.84 L1017.90,1167.69 L1018.40,1168.53 L1018.90,1169.38 L1019.40,1170.22 L1019.90,1171.06 L1020.40,1171.91 L1020.90,1172.75 L1021.40,1173.59 L1021.90,1174.42 L1022.40,1175.26 L1022.90,1176.09 L1023.40,1176.93 L1023.90,1177.76 L1024.40,1178.59 L1024.90,1179.41 L1025.40,1180.24 L1025.90,1181.06 L1026.40,1181.88 L1026.90,1182.71 L1027.40,1183.52 L1027.90,1184.34 L1028.40,1185.15 L1028.90,1185.97 L1029.40,1186.78 L1029.90,1187.59 L1030.40,1188.39 L1030.90,1189.20 L1031.40,1190.00 L1031.90,1190.80 L1032.40,1191.59 L1032.90,1192.39 L1033.40,1193.18 L1033.90,1193.97 L1034.40,1194.76 L1034.90,1195.54 L1035.40,1196.32 L1035.90,1197.10 L1036.40,1197.88 L1036.90,1198.66 L1037.40,1199.43 L1037.90,1200.20 L1038.40,1200.96 L1038.90,1201.73 L1039.40,1202.49 L1039.90,1203.24 L1040.40,1204.00 L1040.90,1204.75 L1041.40,1205.50 L1041.90,1206.24 L1042.40,1206.99 L1042.90,1207.73 L1043.40,1208.46 L1043.90,1209.20 L1044.40,1209.93 L1044.90,1210.65 L1045.40,1211.38 L1045.90,1212.10 L1046.40,1212.81 L1046.90,1213.53 L1047.40,1214.24 L1047.90,1214.94 L1048.40,1215.65 L1048.90,1216.35 L1049.40,1217.04 L1049.90,1217.74 L1050.40,1218.42 L1050.90,1219.11 L1051.40,1219.79 L1051.90,1220.47 L1052.40,1221.14 L1052.90,1221.81 L1053.40,1222.48 L1053.90,1223.14 L1054.40,1223.80 L1054.90,1224.45 L1055.40,1225.11 L1055.90,1225.75 L1056.40,1226.39 L1056.90,1227.03 L1057.40,1227.67 L1057.90,1228.30 L1058.40,1228.92 L1058.90,1229.55 L1059.40,1230.16 L1059.90,1230.78 L1060.40,1231.39 L1060.90,1231.99 L1061.40,1232.59 L1061.90,1233.19 L1062.40,1233.78 L1062.90,1234.37 L1063.40,1234.95 L1063.90,1235.53 L1064.40,1236.11 L1064.90,1236.68 L1065.40,1237.24 L1065.90,1237.80 L1066.40,1238.36 L1066.90,1238.91 L1067.40,1239.46 L1067.90,1240.00 L1068.40,1240.54 L1068.90,1241.07 L1069.40,1241.60 L1069.90,1242.12 L1070.40,1242.64 L1070.90,1243.15 L1071.40,1243.66 L1071.90,1244.16 L1072.40,1244.66 L1072.90,1245.16 L1073.40,1245.64 L1073.90,1246.13 L1074.40,1246.61 L1074.90,1247.08 L1075.40,1247.55 L1075.90,1248.01 L1076.40,1248.47 L1076.90,1248.92 L1077.40,1249.37 L1077.90,1249.82 L1078.40,1250.25 L1078.90,1250.69 L1079.40,1251.11 L1079.90,1251.54 L1080.40,1251.95 L1080.90,1252.36 L1081.40,1252.77 L1081.90,1253.17 L1082.40,1253.57 L1082.90,1253.96 L1083.40,1254.34 L1083.90,1254.72 L1084.40,1255.10 L1084.90,1255.46 L1085.40,1255.83 L1085.90,1256.19 L1086.40,1256.54 L1086.90,1256.88 L1087.40,1257.22 L1087.90,1257.56 L1088.40,1257.89 L1088.90,1258.21 L1089.40,1258.53 L1089.90,1258.85 L1090.40,1259.15 L1090.90,1259.46 L1091.40,1259.75 L1091.90,1260.04 L1092.40,1260.33 L1092.90,1260.61 L1093.40,1260.88 L1093.90,1261.15 L1094.40,1261.41 L1094.90,1261.67 L1095.40,1261.92 L1095.90,1262.16 L1096.40,1262.40 L1096.90,1262.63 L1097.40,1262.86 L1097.90,1263.08 L1098.40,1263.30 L1098.90,1263.51 L1099.40,1263.71 L1099.90,1263.91 L1100.40,1264.10 L1100.90,1264.29 L1101.40,1264.47 L1101.90,1264.64 L1102.40,1264.81 L1102.90,1264.97 L1103.40,1265.13 L1103.90,1265.28 L1104.40,1265.42 L1104.90,1265.56 L1105.40,1265.70 L1105.90,1265.82 L1106.40,1265.94 L1106.90,1266.06 L1107.40,1266.17 L1107.90,1266.27 L1108.40,1266.37 L1108.90,1266.46 L1109.40,1266.54 L1109.90,1266.62 L1110.40,1266.69 L1110.90,1266.76 L1111.40,1266.82 L1111.90,1266.88 L1112.40,1266.93 L1112.90,1266.97 L1113.40,1267.01 L1113.90,1267.04 L1114.40,1267.06 L1114.90,1267.08 L1115.40,1267.09 L1115.90,1267.10 L1116.40,1267.10 L1116.90,1267.09 L1117.40,1267.08 L1117.90,1267.07 L1118.40,1267.04 L1118.90,1267.01 L1119.40,1266.98 L1119.90,1266.93 L1120.40,1266.89 L1120.90,1266.83 L1121.40,1266.77 L1121.90,1266.71 L1122.40,1266.64 L1122.90,1266.56 L1123.40,1266.47 L1123.90,1266.39 L1124.40,1266.29 L1124.90,1266.19 L1125.40,1266.08 L1125.90,1265.97 L1126.40,1265.85 L1126.90,1265.72 L1127.40,1265.59 L1127.90,1265.45 L1128.40,1265.31 L1128.90,1265.16 L1129.40,1265.00 L1129.90,1264.84 L1130.40,1264.67 L1130.90,1264.50 L1131.40,1264.32 L1131.90,1264.14 L1132.40,1263.95 L1132.90,1263.75 L1133.40,1263.55 L1133.90,1263.34 L1134.40,1263.12 L1134.90,1262.90 L1135.40,1262.68 L1135.90,1262.45 L1136.40,1262.21 L1136.90,1261.96 L1137.40,1261.72 L1137.90,1261.46 L1138.40,1261.20 L1138.90,1260.93 L1139.40,1260.66 L1139.90,1260.38 L1140.40,1260.10 L1140.90,1259.81 L1141.40,1259.52 L1141.90,1259.21 L1142.40,1258.91 L1142.90,1258.60 L1143.40,1258.28 L1143.90,1257.96 L1144.40,1257.63 L1144.90,1257.29 L1145.40,1256.95 L1145.90,1256.61 L1146.40,1256.26 L1146.90,1255.90 L1147.40,1255.54 L1147.90,1255.17 L1148.40,1254.80 L1148.90,1254.42 L1149.40,1254.03 L1149.90,1253.65 L1150.40,1253.25 L1150.90,1252.85 L1151.40,1252.45 L1151.90,1252.04 L1152.40,1251.62 L1152.90,1251.20 L1153.40,1250.77 L1153.90,1250.34 L1154.40,1249.90 L1154.90,1249.46 L1155.40,1249.01 L1155.90,1248.56 L1156.40,1248.10 L1156.90,1247.64 L1157.40,1247.17 L1157.90,1246.70 L1158.40,1246.22 L1158.90,1245.74 L1159.40,1245.25 L1159.90,1244.76 L1160.40,1244.26 L1160.90,1243.76 L1161.40,1243.25 L1161.90,1242.74 L1162.40,1242.22 L1162.90,1241.70 L1163.40,1241.17 L1163.90,1240.64 L1164.40,1240.11 L1164.90,1239.57 L1165.40,1239.02 L1165.90,1238.47 L1166.40,1237.91 L1166.90,1237.35 L1167.40,1236.79 L1167.90,1236.22 L1168.40,1235.65 L1168.90,1235.07 L1169.40,1234.49 L1169.90,1233.90 L1170.40,1233.31 L1170.90,1232.71 L1171.40,1232.11 L1171.90,1231.51 L1172.40,1230.90 L1172.90,1230.29 L1173.40,1229.67 L1173.90,1229.05 L1174.40,1228.42 L1174.90,1227.79 L1175.40,1227.16 L1175.90,1226.52 L1176.40,1225.88 L1176.90,1225.24 L1177.40,1224.59 L1177.90,1223.93 L1178.40,1223.27 L1178.90,1222.61 L1179.40,1221.95 L1179.90,1221.28 L1180.40,1220.60 L1180.90,1219.93 L1181.40,1219.25 L1181.90,1218.56 L1182.40,1217.87 L1182.90,1217.18 L1183.40,1216.49 L1183.90,1215.79 L1184.40,1215.09 L1184.90,1214.38 L1185.40,1213.67 L1185.90,1212.96 L1186.40,1212.24 L1186.90,1211.52 L1187.40,1210.80 L1187.90,1210.07 L1188.40,1209.34 L1188.90,1208.61 L1189.40,1207.87 L1189.90,1207.14 L1190.40,1206.39 L1190.90,1205.65 L1191.40,1204.90 L1191.90,1204.15 L1192.40,1203.40 L1192.90,1202.64 L1193.40,1201.88 L1193.90,1201.12 L1194.40,1200.35 L1194.90,1199.58 L1195.40,1198.81 L1195.90,1198.04 L1196.40,1197.26 L1196.90,1196.48 L1197.40,1195.70 L1197.90,1194.91 L1198.40,1194.13 L1198.90,1193.34 L1199.40,1192.55 L1199.90,1191.75 L1200.40,1190.96 L1200.90,1190.16 L1201.40,1189.36 L1201.90,1188.55 L1202.40,1187.75 L1202.90,1186.94 L1203.40,1186.13 L1203.90,1185.32 L1204.40,1184.50 L1204.90,1183.69 L1205.40,1182.87 L1205.90,1182.05 L1206.40,1181.23 L1206.90,1180.40 L1207.40,1179.58 L1207.90,1178.75 L1208.40,1177.92 L1208.90,1177.09 L1209.40,1176.26 L1209.90,1175.43 L1210.40,1174.59 L1210.90,1173.75 L1211.40,1172.91 L1211.90,1172.07 L1212.40,1171.23 L1212.90,1170.39 L1213.40,1169.55 L1213.90,1168.70 L1214.40,1167.85 L1214.90,1167.01 L1215.40,1166.16 L1215.90,1165.31 L1216.40,1164.46 L1216.90,1163.61 L1217.40,1162.75 L1217.90,1161.90 L1218.40,1161.04 L1218.90,1160.19 L1219.40,1159.33 L1219.90,1158.47 L1220.40,1157.62 L1220.90,1156.76 L1221.40,1155.90 L1221.90,1155.04 L1222.40,1154.18 L1222.90,1153.31 L1223.40,1152.45 L1223.90,1151.59 L1224.40,1150.73 L1224.90,1149.87 L1225.40,1149.00 L1225.90,1148.14 L1226.40,1147.28 L1226.90,1146.41 L1227.40,1145.55 L1227.90,1144.68 L1228.40,1143.82 L1228.90,1142.95 L1229.40,1142.09 L1229.90,1141.23 L1230.40,1140.36 L1230.90,1139.50 L1231.40,1138.63 L1231.90,1137.77 L1232.40,1136.91 L1232.90,1136.04 L1233.40,1135.18 L1233.90,1134.32 L1234.40,1133.46 L1234.90,1132.60 L1235.40,1131.74 L1235.90,1130.88 L1236.40,1130.02 L1236.90,1129.16 L1237.40,1128.30 L1237.90,1127.44 L1238.40,1126.58 L1238.90,1125.73 L1239.40,1124.87 L1239.90,1124.02 L1240.40,1123.17 L1240.90,1122.31 L1241.40,1121.46 L1241.90,1120.61 L1242.40,1119.76 L1242.90,1118.91 L1243.40,1118.07 L1243.90,1117.22 L1244.40,1116.38 L1244.90,1115.54 L1245.40,1114.69 L1245.90,1113.85 L1246.40,1113.01 L1246.90,1112.18 L1247.40,1111.34 L1247.90,1110.51 L1248.40,1109.67 L1248.90,1108.84 L1249.40,1108.01 L1249.90,1107.19 L1250.40,1106.36 L1250.90,1105.54 L1251.40,1104.72 L1251.90,1103.89 L1252.40,1103.08 L1252.90,1102.26 L1253.40,1101.45 L1253.90,1100.63 L1254.40,1099.82 L1254.90,1099.01 L1255.40,1098.21 L1255.90,1097.40 L1256.40,1096.60 L1256.90,1095.80 L1257.40,1095.01 L1257.90,1094.21 L1258.40,1093.42 L1258.90,1092.63 L1259.40,1091.84 L1259.90,1091.06 L1260.40,1090.28 L1260.90,1089.50 L1261.40,1088.72 L1261.90,1087.94 L1262.40,1087.17 L1262.90,1086.40 L1263.40,1085.64 L1263.90,1084.87 L1264.40,1084.11 L1264.90,1083.36 L1265.40,1082.60 L1265.90,1081.85 L1266.40,1081.10 L1266.90,1080.36 L1267.40,1079.61 L1267.90,1078.87 L1268.40,1078.14 L1268.90,1077.40 L1269.40,1076.67 L1269.90,1075.95 L1270.40,1075.22 L1270.90,1074.50 L1271.40,1073.79 L1271.90,1073.07 L1272.40,1072.36 L1272.90,1071.66 L1273.40,1070.95 L1273.90,1070.25 L1274.40,1069.56 L1274.90,1068.86 L1275.40,1068.18 L1275.90,1067.49 L1276.40,1066.81 L1276.90,1066.13 L1277.40,1065.46 L1277.90,1064.79 L1278.40,1064.12 L1278.90,1063.46 L1279.40,1062.80 L1279.90,1062.15 L1280.40,1061.49 L1280.90,1060.85 L1281.40,1060.21 L1281.90,1059.57 L1282.40,1058.93 L1282.90,1058.30 L1283.40,1057.68 L1283.90,1057.05 L1284.40,1056.44 L1284.90,1055.82 L1285.40,1055.21 L1285.90,1054.61 L1286.40,1054.01 L1286.90,1053.41 L1287.40,1052.82 L1287.90,1052.23 L1288.40,1051.65 L1288.90,1051.07 L1289.40,1050.49 L1289.90,1049.92 L1290.40,1049.36 L1290.90,1048.80 L1291.40,1048.24 L1291.90,1047.69 L1292.40,1047.14 L1292.90,1046.60 L1293.40,1046.06 L1293.90,1045.53 L1294.40,1045.00 L1294.90,1044.48 L1295.40,1043.96 L1295.90,1043.45 L1296.40,1042.94 L1296.90,1042.44 L1297.40,1041.94 L1297.90,1041.44 L1298.40,1040.96 L1298.90,1040.47 L1299.40,1039.99 L1299.90,1039.52 L1300.40,1039.05 L1300.90,1038.59 L1301.40,1038.13 L1301.90,1037.68 L1302.40,1037.23 L1302.90,1036.78 L1303.40,1036.35 L1303.90,1035.91 L1304.40,1035.49 L1304.90,1035.06 L1305.40,1034.65 L1305.90,1034.24 L1306.40,1033.83 L1306.90,1033.43 L1307.40,1033.03 L1307.90,1032.64 L1308.40,1032.26 L1308.90,1031.88 L1309.40,1031.50 L1309.90,1031.14 L1310.40,1030.77 L1310.90,1030.41 L1311.40,1030.06 L1311.90,1029.72 L1312.40,1029.38 L1312.90,1029.04 L1313.40,1028.71 L1313.90,1028.39 L1314.40,1028.07 L1314.90,1027.75 L1315.40,1027.45 L1315.90,1027.14 L1316.40,1026.85 L1316.90,1026.56 L1317.40,1026.27 L1317.90,1025.99 L1318.40,1025.72 L1318.90,1025.45 L1319.40,1025.19 L1319.90,1024.93 L1320.40,1024.68 L1320.90,1024.44 L1321.40,1024.20 L1321.90,1023.97 L1322.40,1023.74 L1322.90,1023.52 L1323.40,1023.30" stroke="#1688ff" stroke-width="2.2" fill="none" stroke-linejoin="round" stroke-linecap="round"/>
<line x1="1180.00" y1="1322.00" x2="1264.00" y2="1322.00" stroke="#1688ff" stroke-width="3.3" stroke-linecap="round"/>
<text x="1283.0" y="1327.0" font-family='"Liberation Serif", serif' font-size="35" font-weight="normal" text-anchor="start" fill="#000">Total</text>
<line x1="1180.00" y1="1370.30" x2="1264.00" y2="1370.30" stroke="#ff9a33" stroke-width="3.3" stroke-linecap="round"/>
<text x="1288.0" y="1375.0" font-family='"Liberation Serif", serif' font-size="34" font-weight="normal" text-anchor="start" fill="#000">Remote</text>
<line x1="1180.00" y1="1418.70" x2="1264.00" y2="1418.70" stroke="#c52e02" stroke-width="3.3" stroke-linecap="round"/>
<text x="1289.0" y="1428.0" font-family='"Liberation Serif", serif' font-size="34" font-weight="normal" text-anchor="start" fill="#000">Local</text>
<text x="811.2" y="904.3" font-family='"Liberation Serif", serif' font-size="34" font-weight="normal" text-anchor="end" fill="#000">0.3</text>
<line x1="829.60" y1="975.90" x2="841.60" y2="975.90" stroke="#222" stroke-width="1.5" stroke-linecap="butt"/>
<text x="811.2" y="986.5" font-family='"Liberation Serif", serif' font-size="34" font-weight="normal" text-anchor="end" fill="#000">0.2</text>
<line x1="829.60" y1="1059.60" x2="841.60" y2="1059.60" stroke="#222" stroke-width="1.5" stroke-linecap="butt"/>
<text x="811.2" y="1068.6" font-family='"Liberation Serif", serif' font-size="34" font-weight="normal" text-anchor="end" fill="#000">0.1</text>
<line x1="829.60" y1="1143.30" x2="841.60" y2="1143.30" stroke="#222" stroke-width="1.5" stroke-linecap="butt"/>
<text x="811.2" y="1150.8" font-family='"Liberation Serif", serif' font-size="34" font-weight="normal" text-anchor="end" fill="#000">0</text>
<line x1="829.60" y1="1227.00" x2="841.60" y2="1227.00" stroke="#222" stroke-width="1.5" stroke-linecap="butt"/>
<text x="811.2" y="1233.0" font-family='"Liberation Serif", serif' font-size="34" font-weight="normal" text-anchor="end" fill="#000">-0.1</text>
<line x1="829.60" y1="1310.70" x2="841.60" y2="1310.70" stroke="#222" stroke-width="1.5" stroke-linecap="butt"/>
<text x="811.2" y="1315.2" font-family='"Liberation Serif", serif' font-size="34" font-weight="normal" text-anchor="end" fill="#000">-0.2</text>
<line x1="829.60" y1="1394.40" x2="841.60" y2="1394.40" stroke="#222" stroke-width="1.5" stroke-linecap="butt"/>
<text x="811.2" y="1397.3" font-family='"Liberation Serif", serif' font-size="34" font-weight="normal" text-anchor="end" fill="#000">-0.3</text>
<text x="811.2" y="1479.5" font-family='"Liberation Serif", serif' font-size="34" font-weight="normal" text-anchor="end" fill="#000">-0.4</text>
<line x1="872.50" y1="1477.80" x2="872.50" y2="1465.80" stroke="#333" stroke-width="1.5" stroke-linecap="butt"/>
<line x1="980.80" y1="1477.80" x2="980.80" y2="1465.80" stroke="#333" stroke-width="1.5" stroke-linecap="butt"/>
<line x1="1089.10" y1="1477.80" x2="1089.10" y2="1465.80" stroke="#333" stroke-width="1.5" stroke-linecap="butt"/>
<line x1="1197.40" y1="1477.80" x2="1197.40" y2="1465.80" stroke="#333" stroke-width="1.5" stroke-linecap="butt"/>
<line x1="1305.70" y1="1477.80" x2="1305.70" y2="1465.80" stroke="#333" stroke-width="1.5" stroke-linecap="butt"/>
<text x="878.2" y="1522.5" font-family='"Liberation Serif", serif' font-size="34" font-weight="normal" text-anchor="middle" fill="#000">9/21/21</text>
<text x="1095.0" y="1522.5" font-family='"Liberation Serif", serif' font-size="34" font-weight="normal" text-anchor="middle" fill="#000">9/23/21</text>
<text x="1313.0" y="1522.5" font-family='"Liberation Serif", serif' font-size="34" font-weight="normal" text-anchor="middle" fill="#000">9/25/21</text>
<rect x="829.6" y="892.9" width="584.4" height="584.9" fill="none" stroke="#1a1a1a" stroke-width="1.6"/>
<text x="1123.7" y="864.5" font-family='"Liberation Serif", serif' font-size="34.65" font-weight="normal" text-anchor="middle" fill="#000">Calculated from Analytical Model</text>
<text x="749.8" y="856.8" font-family='"Liberation Sans", sans-serif' font-size="29" font-weight="bold" text-anchor="start" fill="#000">D</text>
<text x="1090.0" y="1580.5" font-family='"Liberation Serif", serif' font-size="35" font-weight="normal" text-anchor="middle" fill="#000">Time</text>
</svg>
</body></html>
